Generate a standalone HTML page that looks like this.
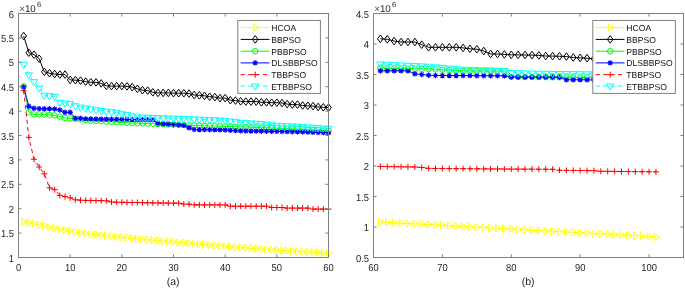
<!DOCTYPE html><html><head><meta charset="utf-8"><style>html,body{margin:0;padding:0;background:#fff;}svg{display:block;will-change:transform}</style></head><body><svg width="685" height="289" viewBox="0 0 685 289">
<style>text{text-rendering:geometricPrecision}.t{font-family:"Liberation Sans",sans-serif;font-size:9.8px;fill:#262626}.tk{font-size:10.1px}.l{font-family:"Liberation Sans",sans-serif;font-size:8.6px;fill:#141414}</style>
<rect width="685" height="289" fill="#fff"/>
<clipPath id="clipa"><rect x="18.5" y="13.5" width="310" height="244"/></clipPath>
<polyline points="23.67,221.50 28.83,222.58 34.00,223.67 39.17,224.75 44.33,225.83 49.50,226.92 54.67,228.00 59.83,229.02 65.00,230.04 70.17,231.06 75.33,232.08 80.50,233.05 85.67,233.58 90.83,234.10 96.00,234.63 101.17,235.16 106.33,235.68 111.50,236.21 116.67,236.73 121.83,237.26 127.00,237.78 132.17,238.28 137.33,238.74 142.50,239.19 147.67,239.64 152.83,240.10 158.00,240.55 163.17,241.00 168.33,241.46 173.50,241.91 178.67,242.36 183.83,242.81 189.00,243.24 194.17,243.68 199.33,244.12 204.50,244.55 209.67,244.99 214.83,245.43 220.00,245.86 225.17,246.30 230.33,246.69 235.50,247.08 240.67,247.47 245.83,247.86 251.00,248.24 256.17,248.63 261.33,249.02 266.50,249.41 271.67,249.80 276.83,250.11 282.00,250.42 287.17,250.73 292.33,251.04 297.50,251.35 302.67,251.65 307.83,251.96 313.00,252.27 318.17,252.58 323.33,252.89 328.50,253.20" fill="none" stroke="#ffff00" stroke-width="1.0" clip-path="url(#clipa)"/>
<path d="M21.80,217.90L27.40,221.50L21.80,225.10Z" fill="none" stroke="#ffff00" stroke-width="1.0"/>
<path d="M26.97,218.98L32.57,222.58L26.97,226.18Z" fill="none" stroke="#ffff00" stroke-width="1.0"/>
<path d="M32.13,220.07L37.73,223.67L32.13,227.27Z" fill="none" stroke="#ffff00" stroke-width="1.0"/>
<path d="M37.30,221.15L42.90,224.75L37.30,228.35Z" fill="none" stroke="#ffff00" stroke-width="1.0"/>
<path d="M42.47,222.23L48.07,225.83L42.47,229.43Z" fill="none" stroke="#ffff00" stroke-width="1.0"/>
<path d="M47.63,223.32L53.23,226.92L47.63,230.52Z" fill="none" stroke="#ffff00" stroke-width="1.0"/>
<path d="M52.80,224.40L58.40,228.00L52.80,231.60Z" fill="none" stroke="#ffff00" stroke-width="1.0"/>
<path d="M57.97,225.42L63.57,229.02L57.97,232.62Z" fill="none" stroke="#ffff00" stroke-width="1.0"/>
<path d="M63.13,226.44L68.73,230.04L63.13,233.64Z" fill="none" stroke="#ffff00" stroke-width="1.0"/>
<path d="M68.30,227.46L73.90,231.06L68.30,234.66Z" fill="none" stroke="#ffff00" stroke-width="1.0"/>
<path d="M73.47,228.48L79.07,232.08L73.47,235.68Z" fill="none" stroke="#ffff00" stroke-width="1.0"/>
<path d="M78.63,229.45L84.23,233.05L78.63,236.65Z" fill="none" stroke="#ffff00" stroke-width="1.0"/>
<path d="M83.80,229.98L89.40,233.58L83.80,237.18Z" fill="none" stroke="#ffff00" stroke-width="1.0"/>
<path d="M88.97,230.50L94.57,234.10L88.97,237.70Z" fill="none" stroke="#ffff00" stroke-width="1.0"/>
<path d="M94.13,231.03L99.73,234.63L94.13,238.23Z" fill="none" stroke="#ffff00" stroke-width="1.0"/>
<path d="M99.30,231.56L104.90,235.16L99.30,238.76Z" fill="none" stroke="#ffff00" stroke-width="1.0"/>
<path d="M104.47,232.08L110.07,235.68L104.47,239.28Z" fill="none" stroke="#ffff00" stroke-width="1.0"/>
<path d="M109.63,232.61L115.23,236.21L109.63,239.81Z" fill="none" stroke="#ffff00" stroke-width="1.0"/>
<path d="M114.80,233.13L120.40,236.73L114.80,240.33Z" fill="none" stroke="#ffff00" stroke-width="1.0"/>
<path d="M119.97,233.66L125.57,237.26L119.97,240.86Z" fill="none" stroke="#ffff00" stroke-width="1.0"/>
<path d="M125.13,234.18L130.73,237.78L125.13,241.38Z" fill="none" stroke="#ffff00" stroke-width="1.0"/>
<path d="M130.30,234.68L135.90,238.28L130.30,241.88Z" fill="none" stroke="#ffff00" stroke-width="1.0"/>
<path d="M135.47,235.14L141.07,238.74L135.47,242.34Z" fill="none" stroke="#ffff00" stroke-width="1.0"/>
<path d="M140.63,235.59L146.23,239.19L140.63,242.79Z" fill="none" stroke="#ffff00" stroke-width="1.0"/>
<path d="M145.80,236.04L151.40,239.64L145.80,243.24Z" fill="none" stroke="#ffff00" stroke-width="1.0"/>
<path d="M150.97,236.50L156.57,240.10L150.97,243.70Z" fill="none" stroke="#ffff00" stroke-width="1.0"/>
<path d="M156.13,236.95L161.73,240.55L156.13,244.15Z" fill="none" stroke="#ffff00" stroke-width="1.0"/>
<path d="M161.30,237.40L166.90,241.00L161.30,244.60Z" fill="none" stroke="#ffff00" stroke-width="1.0"/>
<path d="M166.47,237.86L172.07,241.46L166.47,245.06Z" fill="none" stroke="#ffff00" stroke-width="1.0"/>
<path d="M171.63,238.31L177.23,241.91L171.63,245.51Z" fill="none" stroke="#ffff00" stroke-width="1.0"/>
<path d="M176.80,238.76L182.40,242.36L176.80,245.96Z" fill="none" stroke="#ffff00" stroke-width="1.0"/>
<path d="M181.97,239.21L187.57,242.81L181.97,246.41Z" fill="none" stroke="#ffff00" stroke-width="1.0"/>
<path d="M187.13,239.64L192.73,243.24L187.13,246.84Z" fill="none" stroke="#ffff00" stroke-width="1.0"/>
<path d="M192.30,240.08L197.90,243.68L192.30,247.28Z" fill="none" stroke="#ffff00" stroke-width="1.0"/>
<path d="M197.47,240.52L203.07,244.12L197.47,247.72Z" fill="none" stroke="#ffff00" stroke-width="1.0"/>
<path d="M202.63,240.95L208.23,244.55L202.63,248.15Z" fill="none" stroke="#ffff00" stroke-width="1.0"/>
<path d="M207.80,241.39L213.40,244.99L207.80,248.59Z" fill="none" stroke="#ffff00" stroke-width="1.0"/>
<path d="M212.97,241.83L218.57,245.43L212.97,249.03Z" fill="none" stroke="#ffff00" stroke-width="1.0"/>
<path d="M218.13,242.26L223.73,245.86L218.13,249.46Z" fill="none" stroke="#ffff00" stroke-width="1.0"/>
<path d="M223.30,242.70L228.90,246.30L223.30,249.90Z" fill="none" stroke="#ffff00" stroke-width="1.0"/>
<path d="M228.47,243.09L234.07,246.69L228.47,250.29Z" fill="none" stroke="#ffff00" stroke-width="1.0"/>
<path d="M233.63,243.48L239.23,247.08L233.63,250.68Z" fill="none" stroke="#ffff00" stroke-width="1.0"/>
<path d="M238.80,243.87L244.40,247.47L238.80,251.07Z" fill="none" stroke="#ffff00" stroke-width="1.0"/>
<path d="M243.97,244.26L249.57,247.86L243.97,251.46Z" fill="none" stroke="#ffff00" stroke-width="1.0"/>
<path d="M249.13,244.64L254.73,248.24L249.13,251.84Z" fill="none" stroke="#ffff00" stroke-width="1.0"/>
<path d="M254.30,245.03L259.90,248.63L254.30,252.23Z" fill="none" stroke="#ffff00" stroke-width="1.0"/>
<path d="M259.47,245.42L265.07,249.02L259.47,252.62Z" fill="none" stroke="#ffff00" stroke-width="1.0"/>
<path d="M264.63,245.81L270.23,249.41L264.63,253.01Z" fill="none" stroke="#ffff00" stroke-width="1.0"/>
<path d="M269.80,246.20L275.40,249.80L269.80,253.40Z" fill="none" stroke="#ffff00" stroke-width="1.0"/>
<path d="M274.97,246.51L280.57,250.11L274.97,253.71Z" fill="none" stroke="#ffff00" stroke-width="1.0"/>
<path d="M280.13,246.82L285.73,250.42L280.13,254.02Z" fill="none" stroke="#ffff00" stroke-width="1.0"/>
<path d="M285.30,247.13L290.90,250.73L285.30,254.33Z" fill="none" stroke="#ffff00" stroke-width="1.0"/>
<path d="M290.47,247.44L296.07,251.04L290.47,254.64Z" fill="none" stroke="#ffff00" stroke-width="1.0"/>
<path d="M295.63,247.75L301.23,251.35L295.63,254.95Z" fill="none" stroke="#ffff00" stroke-width="1.0"/>
<path d="M300.80,248.05L306.40,251.65L300.80,255.25Z" fill="none" stroke="#ffff00" stroke-width="1.0"/>
<path d="M305.97,248.36L311.57,251.96L305.97,255.56Z" fill="none" stroke="#ffff00" stroke-width="1.0"/>
<path d="M311.13,248.67L316.73,252.27L311.13,255.87Z" fill="none" stroke="#ffff00" stroke-width="1.0"/>
<path d="M316.30,248.98L321.90,252.58L316.30,256.18Z" fill="none" stroke="#ffff00" stroke-width="1.0"/>
<path d="M321.47,249.29L327.07,252.89L321.47,256.49Z" fill="none" stroke="#ffff00" stroke-width="1.0"/>
<path d="M326.63,249.60L332.23,253.20L326.63,256.80Z" fill="none" stroke="#ffff00" stroke-width="1.0"/>
<polyline points="23.67,36.00 28.83,52.70 34.00,54.70 39.17,58.70 44.33,71.80 49.50,73.20 54.67,74.00 59.83,74.60 65.00,74.60 70.17,79.90 75.33,80.20 80.50,80.60 85.67,81.60 90.83,82.30 96.00,82.30 101.17,83.40 106.33,85.80 111.50,86.10 116.67,86.10 121.83,86.10 127.00,86.40 132.17,87.10 137.33,88.80 142.50,90.20 147.67,90.60 152.83,92.30 158.00,92.90 163.17,92.90 168.33,92.90 173.50,93.20 178.67,93.20 183.83,93.20 189.00,93.60 194.17,95.00 199.33,95.30 204.50,95.80 209.67,96.70 214.83,97.10 220.00,98.10 225.17,98.10 230.33,100.20 235.50,100.60 240.67,101.30 245.83,101.60 251.00,101.60 256.17,101.60 261.33,102.30 266.50,102.30 271.67,102.70 276.83,102.70 282.00,103.00 287.17,104.10 292.33,104.60 297.50,104.60 302.67,105.50 307.83,105.80 313.00,106.10 318.17,107.00 323.33,107.30 328.50,107.60" fill="none" stroke="#000000" stroke-width="1.0" clip-path="url(#clipa)"/>
<path d="M23.67,32.20L26.47,36.00L23.67,39.80L20.87,36.00Z" fill="none" stroke="#000000" stroke-width="1.0"/>
<path d="M28.83,48.90L31.63,52.70L28.83,56.50L26.03,52.70Z" fill="none" stroke="#000000" stroke-width="1.0"/>
<path d="M34.00,50.90L36.80,54.70L34.00,58.50L31.20,54.70Z" fill="none" stroke="#000000" stroke-width="1.0"/>
<path d="M39.17,54.90L41.97,58.70L39.17,62.50L36.37,58.70Z" fill="none" stroke="#000000" stroke-width="1.0"/>
<path d="M44.33,68.00L47.13,71.80L44.33,75.60L41.53,71.80Z" fill="none" stroke="#000000" stroke-width="1.0"/>
<path d="M49.50,69.40L52.30,73.20L49.50,77.00L46.70,73.20Z" fill="none" stroke="#000000" stroke-width="1.0"/>
<path d="M54.67,70.20L57.47,74.00L54.67,77.80L51.87,74.00Z" fill="none" stroke="#000000" stroke-width="1.0"/>
<path d="M59.83,70.80L62.63,74.60L59.83,78.40L57.03,74.60Z" fill="none" stroke="#000000" stroke-width="1.0"/>
<path d="M65.00,70.80L67.80,74.60L65.00,78.40L62.20,74.60Z" fill="none" stroke="#000000" stroke-width="1.0"/>
<path d="M70.17,76.10L72.97,79.90L70.17,83.70L67.37,79.90Z" fill="none" stroke="#000000" stroke-width="1.0"/>
<path d="M75.33,76.40L78.13,80.20L75.33,84.00L72.53,80.20Z" fill="none" stroke="#000000" stroke-width="1.0"/>
<path d="M80.50,76.80L83.30,80.60L80.50,84.40L77.70,80.60Z" fill="none" stroke="#000000" stroke-width="1.0"/>
<path d="M85.67,77.80L88.47,81.60L85.67,85.40L82.87,81.60Z" fill="none" stroke="#000000" stroke-width="1.0"/>
<path d="M90.83,78.50L93.63,82.30L90.83,86.10L88.03,82.30Z" fill="none" stroke="#000000" stroke-width="1.0"/>
<path d="M96.00,78.50L98.80,82.30L96.00,86.10L93.20,82.30Z" fill="none" stroke="#000000" stroke-width="1.0"/>
<path d="M101.17,79.60L103.97,83.40L101.17,87.20L98.37,83.40Z" fill="none" stroke="#000000" stroke-width="1.0"/>
<path d="M106.33,82.00L109.13,85.80L106.33,89.60L103.53,85.80Z" fill="none" stroke="#000000" stroke-width="1.0"/>
<path d="M111.50,82.30L114.30,86.10L111.50,89.90L108.70,86.10Z" fill="none" stroke="#000000" stroke-width="1.0"/>
<path d="M116.67,82.30L119.47,86.10L116.67,89.90L113.87,86.10Z" fill="none" stroke="#000000" stroke-width="1.0"/>
<path d="M121.83,82.30L124.63,86.10L121.83,89.90L119.03,86.10Z" fill="none" stroke="#000000" stroke-width="1.0"/>
<path d="M127.00,82.60L129.80,86.40L127.00,90.20L124.20,86.40Z" fill="none" stroke="#000000" stroke-width="1.0"/>
<path d="M132.17,83.30L134.97,87.10L132.17,90.90L129.37,87.10Z" fill="none" stroke="#000000" stroke-width="1.0"/>
<path d="M137.33,85.00L140.13,88.80L137.33,92.60L134.53,88.80Z" fill="none" stroke="#000000" stroke-width="1.0"/>
<path d="M142.50,86.40L145.30,90.20L142.50,94.00L139.70,90.20Z" fill="none" stroke="#000000" stroke-width="1.0"/>
<path d="M147.67,86.80L150.47,90.60L147.67,94.40L144.87,90.60Z" fill="none" stroke="#000000" stroke-width="1.0"/>
<path d="M152.83,88.50L155.63,92.30L152.83,96.10L150.03,92.30Z" fill="none" stroke="#000000" stroke-width="1.0"/>
<path d="M158.00,89.10L160.80,92.90L158.00,96.70L155.20,92.90Z" fill="none" stroke="#000000" stroke-width="1.0"/>
<path d="M163.17,89.10L165.97,92.90L163.17,96.70L160.37,92.90Z" fill="none" stroke="#000000" stroke-width="1.0"/>
<path d="M168.33,89.10L171.13,92.90L168.33,96.70L165.53,92.90Z" fill="none" stroke="#000000" stroke-width="1.0"/>
<path d="M173.50,89.40L176.30,93.20L173.50,97.00L170.70,93.20Z" fill="none" stroke="#000000" stroke-width="1.0"/>
<path d="M178.67,89.40L181.47,93.20L178.67,97.00L175.87,93.20Z" fill="none" stroke="#000000" stroke-width="1.0"/>
<path d="M183.83,89.40L186.63,93.20L183.83,97.00L181.03,93.20Z" fill="none" stroke="#000000" stroke-width="1.0"/>
<path d="M189.00,89.80L191.80,93.60L189.00,97.40L186.20,93.60Z" fill="none" stroke="#000000" stroke-width="1.0"/>
<path d="M194.17,91.20L196.97,95.00L194.17,98.80L191.37,95.00Z" fill="none" stroke="#000000" stroke-width="1.0"/>
<path d="M199.33,91.50L202.13,95.30L199.33,99.10L196.53,95.30Z" fill="none" stroke="#000000" stroke-width="1.0"/>
<path d="M204.50,92.00L207.30,95.80L204.50,99.60L201.70,95.80Z" fill="none" stroke="#000000" stroke-width="1.0"/>
<path d="M209.67,92.90L212.47,96.70L209.67,100.50L206.87,96.70Z" fill="none" stroke="#000000" stroke-width="1.0"/>
<path d="M214.83,93.30L217.63,97.10L214.83,100.90L212.03,97.10Z" fill="none" stroke="#000000" stroke-width="1.0"/>
<path d="M220.00,94.30L222.80,98.10L220.00,101.90L217.20,98.10Z" fill="none" stroke="#000000" stroke-width="1.0"/>
<path d="M225.17,94.30L227.97,98.10L225.17,101.90L222.37,98.10Z" fill="none" stroke="#000000" stroke-width="1.0"/>
<path d="M230.33,96.40L233.13,100.20L230.33,104.00L227.53,100.20Z" fill="none" stroke="#000000" stroke-width="1.0"/>
<path d="M235.50,96.80L238.30,100.60L235.50,104.40L232.70,100.60Z" fill="none" stroke="#000000" stroke-width="1.0"/>
<path d="M240.67,97.50L243.47,101.30L240.67,105.10L237.87,101.30Z" fill="none" stroke="#000000" stroke-width="1.0"/>
<path d="M245.83,97.80L248.63,101.60L245.83,105.40L243.03,101.60Z" fill="none" stroke="#000000" stroke-width="1.0"/>
<path d="M251.00,97.80L253.80,101.60L251.00,105.40L248.20,101.60Z" fill="none" stroke="#000000" stroke-width="1.0"/>
<path d="M256.17,97.80L258.97,101.60L256.17,105.40L253.37,101.60Z" fill="none" stroke="#000000" stroke-width="1.0"/>
<path d="M261.33,98.50L264.13,102.30L261.33,106.10L258.53,102.30Z" fill="none" stroke="#000000" stroke-width="1.0"/>
<path d="M266.50,98.50L269.30,102.30L266.50,106.10L263.70,102.30Z" fill="none" stroke="#000000" stroke-width="1.0"/>
<path d="M271.67,98.90L274.47,102.70L271.67,106.50L268.87,102.70Z" fill="none" stroke="#000000" stroke-width="1.0"/>
<path d="M276.83,98.90L279.63,102.70L276.83,106.50L274.03,102.70Z" fill="none" stroke="#000000" stroke-width="1.0"/>
<path d="M282.00,99.20L284.80,103.00L282.00,106.80L279.20,103.00Z" fill="none" stroke="#000000" stroke-width="1.0"/>
<path d="M287.17,100.30L289.97,104.10L287.17,107.90L284.37,104.10Z" fill="none" stroke="#000000" stroke-width="1.0"/>
<path d="M292.33,100.80L295.13,104.60L292.33,108.40L289.53,104.60Z" fill="none" stroke="#000000" stroke-width="1.0"/>
<path d="M297.50,100.80L300.30,104.60L297.50,108.40L294.70,104.60Z" fill="none" stroke="#000000" stroke-width="1.0"/>
<path d="M302.67,101.70L305.47,105.50L302.67,109.30L299.87,105.50Z" fill="none" stroke="#000000" stroke-width="1.0"/>
<path d="M307.83,102.00L310.63,105.80L307.83,109.60L305.03,105.80Z" fill="none" stroke="#000000" stroke-width="1.0"/>
<path d="M313.00,102.30L315.80,106.10L313.00,109.90L310.20,106.10Z" fill="none" stroke="#000000" stroke-width="1.0"/>
<path d="M318.17,103.20L320.97,107.00L318.17,110.80L315.37,107.00Z" fill="none" stroke="#000000" stroke-width="1.0"/>
<path d="M323.33,103.50L326.13,107.30L323.33,111.10L320.53,107.30Z" fill="none" stroke="#000000" stroke-width="1.0"/>
<path d="M328.50,103.80L331.30,107.60L328.50,111.40L325.70,107.60Z" fill="none" stroke="#000000" stroke-width="1.0"/>
<polyline points="23.67,86.20 28.83,112.30 34.00,114.40 39.17,114.40 44.33,114.40 49.50,114.90 54.67,115.30 59.83,116.60 65.00,118.00 70.17,118.40 75.33,118.80 80.50,119.30 85.67,120.05 90.83,120.60 96.00,120.91 101.17,121.22 106.33,121.53 111.50,121.83 116.67,122.14 121.83,122.45 127.00,122.76 132.17,123.07 137.33,123.23 142.50,123.38 147.67,123.54 152.83,123.70 158.00,123.93 163.17,124.16 168.33,124.39 173.50,124.61 178.67,124.84 183.83,125.07 189.00,125.30 194.17,125.45 199.33,125.59 204.50,125.74 209.67,125.89 214.83,126.03 220.00,126.18 225.17,126.33 230.33,126.51 235.50,126.69 240.67,126.88 245.83,127.06 251.00,127.24 256.17,127.43 261.33,127.61 266.50,127.80 271.67,127.98 276.83,128.16 282.00,128.42 287.17,128.67 292.33,128.92 297.50,129.18 302.67,129.43 307.83,129.69 313.00,129.94 318.17,130.19 323.33,130.45 328.50,130.70" fill="none" stroke="#00ff00" stroke-width="1.0" clip-path="url(#clipa)"/>
<circle cx="23.67" cy="86.20" r="2.75" fill="none" stroke="#00ff00" stroke-width="1.0"/>
<circle cx="28.83" cy="112.30" r="2.75" fill="none" stroke="#00ff00" stroke-width="1.0"/>
<circle cx="34.00" cy="114.40" r="2.75" fill="none" stroke="#00ff00" stroke-width="1.0"/>
<circle cx="39.17" cy="114.40" r="2.75" fill="none" stroke="#00ff00" stroke-width="1.0"/>
<circle cx="44.33" cy="114.40" r="2.75" fill="none" stroke="#00ff00" stroke-width="1.0"/>
<circle cx="49.50" cy="114.90" r="2.75" fill="none" stroke="#00ff00" stroke-width="1.0"/>
<circle cx="54.67" cy="115.30" r="2.75" fill="none" stroke="#00ff00" stroke-width="1.0"/>
<circle cx="59.83" cy="116.60" r="2.75" fill="none" stroke="#00ff00" stroke-width="1.0"/>
<circle cx="65.00" cy="118.00" r="2.75" fill="none" stroke="#00ff00" stroke-width="1.0"/>
<circle cx="70.17" cy="118.40" r="2.75" fill="none" stroke="#00ff00" stroke-width="1.0"/>
<circle cx="75.33" cy="118.80" r="2.75" fill="none" stroke="#00ff00" stroke-width="1.0"/>
<circle cx="80.50" cy="119.30" r="2.75" fill="none" stroke="#00ff00" stroke-width="1.0"/>
<circle cx="85.67" cy="120.05" r="2.75" fill="none" stroke="#00ff00" stroke-width="1.0"/>
<circle cx="90.83" cy="120.60" r="2.75" fill="none" stroke="#00ff00" stroke-width="1.0"/>
<circle cx="96.00" cy="120.91" r="2.75" fill="none" stroke="#00ff00" stroke-width="1.0"/>
<circle cx="101.17" cy="121.22" r="2.75" fill="none" stroke="#00ff00" stroke-width="1.0"/>
<circle cx="106.33" cy="121.53" r="2.75" fill="none" stroke="#00ff00" stroke-width="1.0"/>
<circle cx="111.50" cy="121.83" r="2.75" fill="none" stroke="#00ff00" stroke-width="1.0"/>
<circle cx="116.67" cy="122.14" r="2.75" fill="none" stroke="#00ff00" stroke-width="1.0"/>
<circle cx="121.83" cy="122.45" r="2.75" fill="none" stroke="#00ff00" stroke-width="1.0"/>
<circle cx="127.00" cy="122.76" r="2.75" fill="none" stroke="#00ff00" stroke-width="1.0"/>
<circle cx="132.17" cy="123.07" r="2.75" fill="none" stroke="#00ff00" stroke-width="1.0"/>
<circle cx="137.33" cy="123.23" r="2.75" fill="none" stroke="#00ff00" stroke-width="1.0"/>
<circle cx="142.50" cy="123.38" r="2.75" fill="none" stroke="#00ff00" stroke-width="1.0"/>
<circle cx="147.67" cy="123.54" r="2.75" fill="none" stroke="#00ff00" stroke-width="1.0"/>
<circle cx="152.83" cy="123.70" r="2.75" fill="none" stroke="#00ff00" stroke-width="1.0"/>
<circle cx="158.00" cy="123.93" r="2.75" fill="none" stroke="#00ff00" stroke-width="1.0"/>
<circle cx="163.17" cy="124.16" r="2.75" fill="none" stroke="#00ff00" stroke-width="1.0"/>
<circle cx="168.33" cy="124.39" r="2.75" fill="none" stroke="#00ff00" stroke-width="1.0"/>
<circle cx="173.50" cy="124.61" r="2.75" fill="none" stroke="#00ff00" stroke-width="1.0"/>
<circle cx="178.67" cy="124.84" r="2.75" fill="none" stroke="#00ff00" stroke-width="1.0"/>
<circle cx="183.83" cy="125.07" r="2.75" fill="none" stroke="#00ff00" stroke-width="1.0"/>
<circle cx="189.00" cy="125.30" r="2.75" fill="none" stroke="#00ff00" stroke-width="1.0"/>
<circle cx="194.17" cy="125.45" r="2.75" fill="none" stroke="#00ff00" stroke-width="1.0"/>
<circle cx="199.33" cy="125.59" r="2.75" fill="none" stroke="#00ff00" stroke-width="1.0"/>
<circle cx="204.50" cy="125.74" r="2.75" fill="none" stroke="#00ff00" stroke-width="1.0"/>
<circle cx="209.67" cy="125.89" r="2.75" fill="none" stroke="#00ff00" stroke-width="1.0"/>
<circle cx="214.83" cy="126.03" r="2.75" fill="none" stroke="#00ff00" stroke-width="1.0"/>
<circle cx="220.00" cy="126.18" r="2.75" fill="none" stroke="#00ff00" stroke-width="1.0"/>
<circle cx="225.17" cy="126.33" r="2.75" fill="none" stroke="#00ff00" stroke-width="1.0"/>
<circle cx="230.33" cy="126.51" r="2.75" fill="none" stroke="#00ff00" stroke-width="1.0"/>
<circle cx="235.50" cy="126.69" r="2.75" fill="none" stroke="#00ff00" stroke-width="1.0"/>
<circle cx="240.67" cy="126.88" r="2.75" fill="none" stroke="#00ff00" stroke-width="1.0"/>
<circle cx="245.83" cy="127.06" r="2.75" fill="none" stroke="#00ff00" stroke-width="1.0"/>
<circle cx="251.00" cy="127.24" r="2.75" fill="none" stroke="#00ff00" stroke-width="1.0"/>
<circle cx="256.17" cy="127.43" r="2.75" fill="none" stroke="#00ff00" stroke-width="1.0"/>
<circle cx="261.33" cy="127.61" r="2.75" fill="none" stroke="#00ff00" stroke-width="1.0"/>
<circle cx="266.50" cy="127.80" r="2.75" fill="none" stroke="#00ff00" stroke-width="1.0"/>
<circle cx="271.67" cy="127.98" r="2.75" fill="none" stroke="#00ff00" stroke-width="1.0"/>
<circle cx="276.83" cy="128.16" r="2.75" fill="none" stroke="#00ff00" stroke-width="1.0"/>
<circle cx="282.00" cy="128.42" r="2.75" fill="none" stroke="#00ff00" stroke-width="1.0"/>
<circle cx="287.17" cy="128.67" r="2.75" fill="none" stroke="#00ff00" stroke-width="1.0"/>
<circle cx="292.33" cy="128.92" r="2.75" fill="none" stroke="#00ff00" stroke-width="1.0"/>
<circle cx="297.50" cy="129.18" r="2.75" fill="none" stroke="#00ff00" stroke-width="1.0"/>
<circle cx="302.67" cy="129.43" r="2.75" fill="none" stroke="#00ff00" stroke-width="1.0"/>
<circle cx="307.83" cy="129.69" r="2.75" fill="none" stroke="#00ff00" stroke-width="1.0"/>
<circle cx="313.00" cy="129.94" r="2.75" fill="none" stroke="#00ff00" stroke-width="1.0"/>
<circle cx="318.17" cy="130.19" r="2.75" fill="none" stroke="#00ff00" stroke-width="1.0"/>
<circle cx="323.33" cy="130.45" r="2.75" fill="none" stroke="#00ff00" stroke-width="1.0"/>
<circle cx="328.50" cy="130.70" r="2.75" fill="none" stroke="#00ff00" stroke-width="1.0"/>
<polyline points="23.67,87.00 28.83,106.30 34.00,108.30 39.17,108.60 44.33,108.80 49.50,108.80 54.67,109.00 59.83,110.00 65.00,112.30 70.17,112.30 75.33,118.40 80.50,118.40 85.67,118.90 90.83,118.97 96.00,119.04 101.17,119.11 106.33,119.18 111.50,119.25 116.67,119.32 121.83,119.38 127.00,119.45 132.17,119.52 137.33,119.59 142.50,119.66 147.67,119.73 152.83,119.80 158.00,123.50 163.17,123.80 168.33,124.10 173.50,124.50 178.67,124.90 183.83,125.40 189.00,127.80 194.17,129.50 199.33,129.58 204.50,129.67 209.67,129.75 214.83,129.83 220.00,129.92 225.17,130.00 230.33,130.30 235.50,130.60 240.67,130.90 245.83,130.97 251.00,131.04 256.17,131.11 261.33,131.19 266.50,131.26 271.67,131.33 276.83,131.40 282.00,131.50 287.17,131.60 292.33,131.70 297.50,131.80 302.67,131.97 307.83,132.13 313.00,132.30 318.17,132.47 323.33,132.63 328.50,132.80" fill="none" stroke="#0000ff" stroke-width="1.0" clip-path="url(#clipa)"/>
<path d="M20.97,87.00H26.37M23.67,84.30V89.70M21.72,85.06L25.61,88.94M21.72,88.94L25.61,85.06" stroke="#0000ff" stroke-width="1.15"/>
<path d="M26.13,106.30H31.53M28.83,103.60V109.00M26.89,104.36L30.78,108.24M26.89,108.24L30.78,104.36" stroke="#0000ff" stroke-width="1.15"/>
<path d="M31.30,108.30H36.70M34.00,105.60V111.00M32.06,106.36L35.94,110.24M32.06,110.24L35.94,106.36" stroke="#0000ff" stroke-width="1.15"/>
<path d="M36.47,108.60H41.87M39.17,105.90V111.30M37.22,106.66L41.11,110.54M37.22,110.54L41.11,106.66" stroke="#0000ff" stroke-width="1.15"/>
<path d="M41.63,108.80H47.03M44.33,106.10V111.50M42.39,106.86L46.28,110.74M42.39,110.74L46.28,106.86" stroke="#0000ff" stroke-width="1.15"/>
<path d="M46.80,108.80H52.20M49.50,106.10V111.50M47.56,106.86L51.44,110.74M47.56,110.74L51.44,106.86" stroke="#0000ff" stroke-width="1.15"/>
<path d="M51.97,109.00H57.37M54.67,106.30V111.70M52.72,107.06L56.61,110.94M52.72,110.94L56.61,107.06" stroke="#0000ff" stroke-width="1.15"/>
<path d="M57.13,110.00H62.53M59.83,107.30V112.70M57.89,108.06L61.78,111.94M57.89,111.94L61.78,108.06" stroke="#0000ff" stroke-width="1.15"/>
<path d="M62.30,112.30H67.70M65.00,109.60V115.00M63.06,110.36L66.94,114.24M63.06,114.24L66.94,110.36" stroke="#0000ff" stroke-width="1.15"/>
<path d="M67.47,112.30H72.87M70.17,109.60V115.00M68.22,110.36L72.11,114.24M68.22,114.24L72.11,110.36" stroke="#0000ff" stroke-width="1.15"/>
<path d="M72.63,118.40H78.03M75.33,115.70V121.10M73.39,116.46L77.28,120.34M73.39,120.34L77.28,116.46" stroke="#0000ff" stroke-width="1.15"/>
<path d="M77.80,118.40H83.20M80.50,115.70V121.10M78.56,116.46L82.44,120.34M78.56,120.34L82.44,116.46" stroke="#0000ff" stroke-width="1.15"/>
<path d="M82.97,118.90H88.37M85.67,116.20V121.60M83.72,116.96L87.61,120.84M83.72,120.84L87.61,116.96" stroke="#0000ff" stroke-width="1.15"/>
<path d="M88.13,118.97H93.53M90.83,116.27V121.67M88.89,117.03L92.78,120.91M88.89,120.91L92.78,117.03" stroke="#0000ff" stroke-width="1.15"/>
<path d="M93.30,119.04H98.70M96.00,116.34V121.74M94.06,117.09L97.94,120.98M94.06,120.98L97.94,117.09" stroke="#0000ff" stroke-width="1.15"/>
<path d="M98.47,119.11H103.87M101.17,116.41V121.81M99.22,117.16L103.11,121.05M99.22,121.05L103.11,117.16" stroke="#0000ff" stroke-width="1.15"/>
<path d="M103.63,119.18H109.03M106.33,116.48V121.88M104.39,117.23L108.28,121.12M104.39,121.12L108.28,117.23" stroke="#0000ff" stroke-width="1.15"/>
<path d="M108.80,119.25H114.20M111.50,116.55V121.95M109.56,117.30L113.44,121.19M109.56,121.19L113.44,117.30" stroke="#0000ff" stroke-width="1.15"/>
<path d="M113.97,119.32H119.37M116.67,116.62V122.02M114.72,117.37L118.61,121.26M114.72,121.26L118.61,117.37" stroke="#0000ff" stroke-width="1.15"/>
<path d="M119.13,119.38H124.53M121.83,116.68V122.08M119.89,117.44L123.78,121.33M119.89,121.33L123.78,117.44" stroke="#0000ff" stroke-width="1.15"/>
<path d="M124.30,119.45H129.70M127.00,116.75V122.15M125.06,117.51L128.94,121.40M125.06,121.40L128.94,117.51" stroke="#0000ff" stroke-width="1.15"/>
<path d="M129.47,119.52H134.87M132.17,116.82V122.22M130.22,117.58L134.11,121.47M130.22,121.47L134.11,117.58" stroke="#0000ff" stroke-width="1.15"/>
<path d="M134.63,119.59H140.03M137.33,116.89V122.29M135.39,117.65L139.28,121.54M135.39,121.54L139.28,117.65" stroke="#0000ff" stroke-width="1.15"/>
<path d="M139.80,119.66H145.20M142.50,116.96V122.36M140.56,117.72L144.44,121.61M140.56,121.61L144.44,117.72" stroke="#0000ff" stroke-width="1.15"/>
<path d="M144.97,119.73H150.37M147.67,117.03V122.43M145.72,117.79L149.61,121.67M145.72,121.67L149.61,117.79" stroke="#0000ff" stroke-width="1.15"/>
<path d="M150.13,119.80H155.53M152.83,117.10V122.50M150.89,117.86L154.78,121.74M150.89,121.74L154.78,117.86" stroke="#0000ff" stroke-width="1.15"/>
<path d="M155.30,123.50H160.70M158.00,120.80V126.20M156.06,121.56L159.94,125.44M156.06,125.44L159.94,121.56" stroke="#0000ff" stroke-width="1.15"/>
<path d="M160.47,123.80H165.87M163.17,121.10V126.50M161.22,121.86L165.11,125.74M161.22,125.74L165.11,121.86" stroke="#0000ff" stroke-width="1.15"/>
<path d="M165.63,124.10H171.03M168.33,121.40V126.80M166.39,122.16L170.28,126.04M166.39,126.04L170.28,122.16" stroke="#0000ff" stroke-width="1.15"/>
<path d="M170.80,124.50H176.20M173.50,121.80V127.20M171.56,122.56L175.44,126.44M171.56,126.44L175.44,122.56" stroke="#0000ff" stroke-width="1.15"/>
<path d="M175.97,124.90H181.37M178.67,122.20V127.60M176.72,122.96L180.61,126.84M176.72,126.84L180.61,122.96" stroke="#0000ff" stroke-width="1.15"/>
<path d="M181.13,125.40H186.53M183.83,122.70V128.10M181.89,123.46L185.78,127.34M181.89,127.34L185.78,123.46" stroke="#0000ff" stroke-width="1.15"/>
<path d="M186.30,127.80H191.70M189.00,125.10V130.50M187.06,125.86L190.94,129.74M187.06,129.74L190.94,125.86" stroke="#0000ff" stroke-width="1.15"/>
<path d="M191.47,129.50H196.87M194.17,126.80V132.20M192.22,127.56L196.11,131.44M192.22,131.44L196.11,127.56" stroke="#0000ff" stroke-width="1.15"/>
<path d="M196.63,129.58H202.03M199.33,126.88V132.28M197.39,127.64L201.28,131.53M197.39,131.53L201.28,127.64" stroke="#0000ff" stroke-width="1.15"/>
<path d="M201.80,129.67H207.20M204.50,126.97V132.37M202.56,127.72L206.44,131.61M202.56,131.61L206.44,127.72" stroke="#0000ff" stroke-width="1.15"/>
<path d="M206.97,129.75H212.37M209.67,127.05V132.45M207.72,127.81L211.61,131.69M207.72,131.69L211.61,127.81" stroke="#0000ff" stroke-width="1.15"/>
<path d="M212.13,129.83H217.53M214.83,127.13V132.53M212.89,127.89L216.78,131.78M212.89,131.78L216.78,127.89" stroke="#0000ff" stroke-width="1.15"/>
<path d="M217.30,129.92H222.70M220.00,127.22V132.62M218.06,127.97L221.94,131.86M218.06,131.86L221.94,127.97" stroke="#0000ff" stroke-width="1.15"/>
<path d="M222.47,130.00H227.87M225.17,127.30V132.70M223.22,128.06L227.11,131.94M223.22,131.94L227.11,128.06" stroke="#0000ff" stroke-width="1.15"/>
<path d="M227.63,130.30H233.03M230.33,127.60V133.00M228.39,128.36L232.28,132.24M228.39,132.24L232.28,128.36" stroke="#0000ff" stroke-width="1.15"/>
<path d="M232.80,130.60H238.20M235.50,127.90V133.30M233.56,128.66L237.44,132.54M233.56,132.54L237.44,128.66" stroke="#0000ff" stroke-width="1.15"/>
<path d="M237.97,130.90H243.37M240.67,128.20V133.60M238.72,128.96L242.61,132.84M238.72,132.84L242.61,128.96" stroke="#0000ff" stroke-width="1.15"/>
<path d="M243.13,130.97H248.53M245.83,128.27V133.67M243.89,129.03L247.78,132.92M243.89,132.92L247.78,129.03" stroke="#0000ff" stroke-width="1.15"/>
<path d="M248.30,131.04H253.70M251.00,128.34V133.74M249.06,129.10L252.94,132.99M249.06,132.99L252.94,129.10" stroke="#0000ff" stroke-width="1.15"/>
<path d="M253.47,131.11H258.87M256.17,128.41V133.81M254.22,129.17L258.11,133.06M254.22,133.06L258.11,129.17" stroke="#0000ff" stroke-width="1.15"/>
<path d="M258.63,131.19H264.03M261.33,128.49V133.89M259.39,129.24L263.28,133.13M259.39,133.13L263.28,129.24" stroke="#0000ff" stroke-width="1.15"/>
<path d="M263.80,131.26H269.20M266.50,128.56V133.96M264.56,129.31L268.44,133.20M264.56,133.20L268.44,129.31" stroke="#0000ff" stroke-width="1.15"/>
<path d="M268.97,131.33H274.37M271.67,128.63V134.03M269.72,129.38L273.61,133.27M269.72,133.27L273.61,129.38" stroke="#0000ff" stroke-width="1.15"/>
<path d="M274.13,131.40H279.53M276.83,128.70V134.10M274.89,129.46L278.78,133.34M274.89,133.34L278.78,129.46" stroke="#0000ff" stroke-width="1.15"/>
<path d="M279.30,131.50H284.70M282.00,128.80V134.20M280.06,129.56L283.94,133.44M280.06,133.44L283.94,129.56" stroke="#0000ff" stroke-width="1.15"/>
<path d="M284.47,131.60H289.87M287.17,128.90V134.30M285.22,129.66L289.11,133.54M285.22,133.54L289.11,129.66" stroke="#0000ff" stroke-width="1.15"/>
<path d="M289.63,131.70H295.03M292.33,129.00V134.40M290.39,129.76L294.28,133.64M290.39,133.64L294.28,129.76" stroke="#0000ff" stroke-width="1.15"/>
<path d="M294.80,131.80H300.20M297.50,129.10V134.50M295.56,129.86L299.44,133.74M295.56,133.74L299.44,129.86" stroke="#0000ff" stroke-width="1.15"/>
<path d="M299.97,131.97H305.37M302.67,129.27V134.67M300.72,130.02L304.61,133.91M300.72,133.91L304.61,130.02" stroke="#0000ff" stroke-width="1.15"/>
<path d="M305.13,132.13H310.53M307.83,129.43V134.83M305.89,130.19L309.78,134.08M305.89,134.08L309.78,130.19" stroke="#0000ff" stroke-width="1.15"/>
<path d="M310.30,132.30H315.70M313.00,129.60V135.00M311.06,130.36L314.94,134.24M311.06,134.24L314.94,130.36" stroke="#0000ff" stroke-width="1.15"/>
<path d="M315.47,132.47H320.87M318.17,129.77V135.17M316.22,130.52L320.11,134.41M316.22,134.41L320.11,130.52" stroke="#0000ff" stroke-width="1.15"/>
<path d="M320.63,132.63H326.03M323.33,129.93V135.33M321.39,130.69L325.28,134.58M321.39,134.58L325.28,130.69" stroke="#0000ff" stroke-width="1.15"/>
<path d="M325.80,132.80H331.20M328.50,130.10V135.50M326.56,130.86L330.44,134.74M326.56,134.74L330.44,130.86" stroke="#0000ff" stroke-width="1.15"/>
<polyline points="23.67,90.40 28.83,137.40 34.00,159.20 39.17,167.00 44.33,173.80 49.50,187.80 54.67,189.70 59.83,195.40 65.00,196.60 70.17,197.80 75.33,199.80 80.50,200.20 85.67,200.40 90.83,200.50 96.00,200.60 101.17,200.70 106.33,200.80 111.50,202.00 116.67,202.20 121.83,202.30 127.00,202.40 132.17,202.50 137.33,202.50 142.50,202.70 147.67,202.78 152.83,202.86 158.00,202.94 163.17,203.02 168.33,203.10 173.50,203.20 178.67,203.20 183.83,204.10 189.00,204.10 194.17,204.90 199.33,204.90 204.50,204.90 209.67,204.90 214.83,204.90 220.00,204.90 225.17,204.90 230.33,206.20 235.50,206.20 240.67,206.20 245.83,206.20 251.00,206.20 256.17,206.20 261.33,206.20 266.50,206.20 271.67,207.50 276.83,207.50 282.00,207.50 287.17,208.10 292.33,208.10 297.50,208.10 302.67,208.10 307.83,208.10 313.00,209.10 318.17,209.10 323.33,209.10 328.50,209.10" fill="none" stroke="#ff0000" stroke-width="1.0" stroke-dasharray="4.1,3.3" clip-path="url(#clipa)"/>
<path d="M20.67,90.40L26.67,90.40M23.67,87.40L23.67,93.40" stroke="#ff0000" stroke-width="1.0"/>
<path d="M25.83,137.40L31.83,137.40M28.83,134.40L28.83,140.40" stroke="#ff0000" stroke-width="1.0"/>
<path d="M31.00,159.20L37.00,159.20M34.00,156.20L34.00,162.20" stroke="#ff0000" stroke-width="1.0"/>
<path d="M36.17,167.00L42.17,167.00M39.17,164.00L39.17,170.00" stroke="#ff0000" stroke-width="1.0"/>
<path d="M41.33,173.80L47.33,173.80M44.33,170.80L44.33,176.80" stroke="#ff0000" stroke-width="1.0"/>
<path d="M46.50,187.80L52.50,187.80M49.50,184.80L49.50,190.80" stroke="#ff0000" stroke-width="1.0"/>
<path d="M51.67,189.70L57.67,189.70M54.67,186.70L54.67,192.70" stroke="#ff0000" stroke-width="1.0"/>
<path d="M56.83,195.40L62.83,195.40M59.83,192.40L59.83,198.40" stroke="#ff0000" stroke-width="1.0"/>
<path d="M62.00,196.60L68.00,196.60M65.00,193.60L65.00,199.60" stroke="#ff0000" stroke-width="1.0"/>
<path d="M67.17,197.80L73.17,197.80M70.17,194.80L70.17,200.80" stroke="#ff0000" stroke-width="1.0"/>
<path d="M72.33,199.80L78.33,199.80M75.33,196.80L75.33,202.80" stroke="#ff0000" stroke-width="1.0"/>
<path d="M77.50,200.20L83.50,200.20M80.50,197.20L80.50,203.20" stroke="#ff0000" stroke-width="1.0"/>
<path d="M82.67,200.40L88.67,200.40M85.67,197.40L85.67,203.40" stroke="#ff0000" stroke-width="1.0"/>
<path d="M87.83,200.50L93.83,200.50M90.83,197.50L90.83,203.50" stroke="#ff0000" stroke-width="1.0"/>
<path d="M93.00,200.60L99.00,200.60M96.00,197.60L96.00,203.60" stroke="#ff0000" stroke-width="1.0"/>
<path d="M98.17,200.70L104.17,200.70M101.17,197.70L101.17,203.70" stroke="#ff0000" stroke-width="1.0"/>
<path d="M103.33,200.80L109.33,200.80M106.33,197.80L106.33,203.80" stroke="#ff0000" stroke-width="1.0"/>
<path d="M108.50,202.00L114.50,202.00M111.50,199.00L111.50,205.00" stroke="#ff0000" stroke-width="1.0"/>
<path d="M113.67,202.20L119.67,202.20M116.67,199.20L116.67,205.20" stroke="#ff0000" stroke-width="1.0"/>
<path d="M118.83,202.30L124.83,202.30M121.83,199.30L121.83,205.30" stroke="#ff0000" stroke-width="1.0"/>
<path d="M124.00,202.40L130.00,202.40M127.00,199.40L127.00,205.40" stroke="#ff0000" stroke-width="1.0"/>
<path d="M129.17,202.50L135.17,202.50M132.17,199.50L132.17,205.50" stroke="#ff0000" stroke-width="1.0"/>
<path d="M134.33,202.50L140.33,202.50M137.33,199.50L137.33,205.50" stroke="#ff0000" stroke-width="1.0"/>
<path d="M139.50,202.70L145.50,202.70M142.50,199.70L142.50,205.70" stroke="#ff0000" stroke-width="1.0"/>
<path d="M144.67,202.78L150.67,202.78M147.67,199.78L147.67,205.78" stroke="#ff0000" stroke-width="1.0"/>
<path d="M149.83,202.86L155.83,202.86M152.83,199.86L152.83,205.86" stroke="#ff0000" stroke-width="1.0"/>
<path d="M155.00,202.94L161.00,202.94M158.00,199.94L158.00,205.94" stroke="#ff0000" stroke-width="1.0"/>
<path d="M160.17,203.02L166.17,203.02M163.17,200.02L163.17,206.02" stroke="#ff0000" stroke-width="1.0"/>
<path d="M165.33,203.10L171.33,203.10M168.33,200.10L168.33,206.10" stroke="#ff0000" stroke-width="1.0"/>
<path d="M170.50,203.20L176.50,203.20M173.50,200.20L173.50,206.20" stroke="#ff0000" stroke-width="1.0"/>
<path d="M175.67,203.20L181.67,203.20M178.67,200.20L178.67,206.20" stroke="#ff0000" stroke-width="1.0"/>
<path d="M180.83,204.10L186.83,204.10M183.83,201.10L183.83,207.10" stroke="#ff0000" stroke-width="1.0"/>
<path d="M186.00,204.10L192.00,204.10M189.00,201.10L189.00,207.10" stroke="#ff0000" stroke-width="1.0"/>
<path d="M191.17,204.90L197.17,204.90M194.17,201.90L194.17,207.90" stroke="#ff0000" stroke-width="1.0"/>
<path d="M196.33,204.90L202.33,204.90M199.33,201.90L199.33,207.90" stroke="#ff0000" stroke-width="1.0"/>
<path d="M201.50,204.90L207.50,204.90M204.50,201.90L204.50,207.90" stroke="#ff0000" stroke-width="1.0"/>
<path d="M206.67,204.90L212.67,204.90M209.67,201.90L209.67,207.90" stroke="#ff0000" stroke-width="1.0"/>
<path d="M211.83,204.90L217.83,204.90M214.83,201.90L214.83,207.90" stroke="#ff0000" stroke-width="1.0"/>
<path d="M217.00,204.90L223.00,204.90M220.00,201.90L220.00,207.90" stroke="#ff0000" stroke-width="1.0"/>
<path d="M222.17,204.90L228.17,204.90M225.17,201.90L225.17,207.90" stroke="#ff0000" stroke-width="1.0"/>
<path d="M227.33,206.20L233.33,206.20M230.33,203.20L230.33,209.20" stroke="#ff0000" stroke-width="1.0"/>
<path d="M232.50,206.20L238.50,206.20M235.50,203.20L235.50,209.20" stroke="#ff0000" stroke-width="1.0"/>
<path d="M237.67,206.20L243.67,206.20M240.67,203.20L240.67,209.20" stroke="#ff0000" stroke-width="1.0"/>
<path d="M242.83,206.20L248.83,206.20M245.83,203.20L245.83,209.20" stroke="#ff0000" stroke-width="1.0"/>
<path d="M248.00,206.20L254.00,206.20M251.00,203.20L251.00,209.20" stroke="#ff0000" stroke-width="1.0"/>
<path d="M253.17,206.20L259.17,206.20M256.17,203.20L256.17,209.20" stroke="#ff0000" stroke-width="1.0"/>
<path d="M258.33,206.20L264.33,206.20M261.33,203.20L261.33,209.20" stroke="#ff0000" stroke-width="1.0"/>
<path d="M263.50,206.20L269.50,206.20M266.50,203.20L266.50,209.20" stroke="#ff0000" stroke-width="1.0"/>
<path d="M268.67,207.50L274.67,207.50M271.67,204.50L271.67,210.50" stroke="#ff0000" stroke-width="1.0"/>
<path d="M273.83,207.50L279.83,207.50M276.83,204.50L276.83,210.50" stroke="#ff0000" stroke-width="1.0"/>
<path d="M279.00,207.50L285.00,207.50M282.00,204.50L282.00,210.50" stroke="#ff0000" stroke-width="1.0"/>
<path d="M284.17,208.10L290.17,208.10M287.17,205.10L287.17,211.10" stroke="#ff0000" stroke-width="1.0"/>
<path d="M289.33,208.10L295.33,208.10M292.33,205.10L292.33,211.10" stroke="#ff0000" stroke-width="1.0"/>
<path d="M294.50,208.10L300.50,208.10M297.50,205.10L297.50,211.10" stroke="#ff0000" stroke-width="1.0"/>
<path d="M299.67,208.10L305.67,208.10M302.67,205.10L302.67,211.10" stroke="#ff0000" stroke-width="1.0"/>
<path d="M304.83,208.10L310.83,208.10M307.83,205.10L307.83,211.10" stroke="#ff0000" stroke-width="1.0"/>
<path d="M310.00,209.10L316.00,209.10M313.00,206.10L313.00,212.10" stroke="#ff0000" stroke-width="1.0"/>
<path d="M315.17,209.10L321.17,209.10M318.17,206.10L318.17,212.10" stroke="#ff0000" stroke-width="1.0"/>
<path d="M320.33,209.10L326.33,209.10M323.33,206.10L323.33,212.10" stroke="#ff0000" stroke-width="1.0"/>
<path d="M325.50,209.10L331.50,209.10M328.50,206.10L328.50,212.10" stroke="#ff0000" stroke-width="1.0"/>
<polyline points="23.67,64.40 28.83,74.90 34.00,81.70 39.17,88.10 44.33,95.30 49.50,95.70 54.67,96.30 59.83,102.30 65.00,103.00 70.17,103.70 75.33,105.80 80.50,107.20 85.67,108.20 90.83,109.00 96.00,109.90 101.17,110.60 106.33,111.20 111.50,111.70 116.67,112.70 121.83,113.80 127.00,114.70 132.17,116.00 137.33,117.00 142.50,117.18 147.67,117.36 152.83,117.53 158.00,117.71 163.17,117.89 168.33,118.07 173.50,118.24 178.67,118.44 183.83,118.64 189.00,118.86 194.17,119.08 199.33,119.30 204.50,119.52 209.67,119.74 214.83,119.96 220.00,120.18 225.17,120.40 230.33,121.07 235.50,121.73 240.67,122.40 245.83,122.73 251.00,123.05 256.17,123.38 261.33,123.70 266.50,124.27 271.67,124.83 276.83,125.40 282.00,125.62 287.17,125.85 292.33,126.08 297.50,126.30 302.67,126.65 307.83,127.00 313.00,127.35 318.17,127.70 323.33,128.05 328.50,128.40" fill="none" stroke="#00ffff" stroke-width="1.0" stroke-dasharray="4.1,3.3" clip-path="url(#clipa)"/>
<path d="M19.97,62.33L27.37,62.33L23.67,68.53Z" fill="none" stroke="#00ffff" stroke-width="1.0"/>
<path d="M25.13,72.83L32.53,72.83L28.83,79.03Z" fill="none" stroke="#00ffff" stroke-width="1.0"/>
<path d="M30.30,79.63L37.70,79.63L34.00,85.83Z" fill="none" stroke="#00ffff" stroke-width="1.0"/>
<path d="M35.47,86.03L42.87,86.03L39.17,92.23Z" fill="none" stroke="#00ffff" stroke-width="1.0"/>
<path d="M40.63,93.23L48.03,93.23L44.33,99.43Z" fill="none" stroke="#00ffff" stroke-width="1.0"/>
<path d="M45.80,93.63L53.20,93.63L49.50,99.83Z" fill="none" stroke="#00ffff" stroke-width="1.0"/>
<path d="M50.97,94.23L58.37,94.23L54.67,100.43Z" fill="none" stroke="#00ffff" stroke-width="1.0"/>
<path d="M56.13,100.23L63.53,100.23L59.83,106.43Z" fill="none" stroke="#00ffff" stroke-width="1.0"/>
<path d="M61.30,100.93L68.70,100.93L65.00,107.13Z" fill="none" stroke="#00ffff" stroke-width="1.0"/>
<path d="M66.47,101.63L73.87,101.63L70.17,107.83Z" fill="none" stroke="#00ffff" stroke-width="1.0"/>
<path d="M71.63,103.73L79.03,103.73L75.33,109.93Z" fill="none" stroke="#00ffff" stroke-width="1.0"/>
<path d="M76.80,105.13L84.20,105.13L80.50,111.33Z" fill="none" stroke="#00ffff" stroke-width="1.0"/>
<path d="M81.97,106.13L89.37,106.13L85.67,112.33Z" fill="none" stroke="#00ffff" stroke-width="1.0"/>
<path d="M87.13,106.93L94.53,106.93L90.83,113.13Z" fill="none" stroke="#00ffff" stroke-width="1.0"/>
<path d="M92.30,107.83L99.70,107.83L96.00,114.03Z" fill="none" stroke="#00ffff" stroke-width="1.0"/>
<path d="M97.47,108.53L104.87,108.53L101.17,114.73Z" fill="none" stroke="#00ffff" stroke-width="1.0"/>
<path d="M102.63,109.13L110.03,109.13L106.33,115.33Z" fill="none" stroke="#00ffff" stroke-width="1.0"/>
<path d="M107.80,109.63L115.20,109.63L111.50,115.83Z" fill="none" stroke="#00ffff" stroke-width="1.0"/>
<path d="M112.97,110.63L120.37,110.63L116.67,116.83Z" fill="none" stroke="#00ffff" stroke-width="1.0"/>
<path d="M118.13,111.73L125.53,111.73L121.83,117.93Z" fill="none" stroke="#00ffff" stroke-width="1.0"/>
<path d="M123.30,112.63L130.70,112.63L127.00,118.83Z" fill="none" stroke="#00ffff" stroke-width="1.0"/>
<path d="M128.47,113.93L135.87,113.93L132.17,120.13Z" fill="none" stroke="#00ffff" stroke-width="1.0"/>
<path d="M133.63,114.93L141.03,114.93L137.33,121.13Z" fill="none" stroke="#00ffff" stroke-width="1.0"/>
<path d="M138.80,115.11L146.20,115.11L142.50,121.31Z" fill="none" stroke="#00ffff" stroke-width="1.0"/>
<path d="M143.97,115.29L151.37,115.29L147.67,121.49Z" fill="none" stroke="#00ffff" stroke-width="1.0"/>
<path d="M149.13,115.47L156.53,115.47L152.83,121.67Z" fill="none" stroke="#00ffff" stroke-width="1.0"/>
<path d="M154.30,115.64L161.70,115.64L158.00,121.84Z" fill="none" stroke="#00ffff" stroke-width="1.0"/>
<path d="M159.47,115.82L166.87,115.82L163.17,122.02Z" fill="none" stroke="#00ffff" stroke-width="1.0"/>
<path d="M164.63,116.00L172.03,116.00L168.33,122.20Z" fill="none" stroke="#00ffff" stroke-width="1.0"/>
<path d="M169.80,116.18L177.20,116.18L173.50,122.38Z" fill="none" stroke="#00ffff" stroke-width="1.0"/>
<path d="M174.97,116.38L182.37,116.38L178.67,122.58Z" fill="none" stroke="#00ffff" stroke-width="1.0"/>
<path d="M180.13,116.57L187.53,116.57L183.83,122.77Z" fill="none" stroke="#00ffff" stroke-width="1.0"/>
<path d="M185.30,116.79L192.70,116.79L189.00,122.99Z" fill="none" stroke="#00ffff" stroke-width="1.0"/>
<path d="M190.47,117.01L197.87,117.01L194.17,123.21Z" fill="none" stroke="#00ffff" stroke-width="1.0"/>
<path d="M195.63,117.23L203.03,117.23L199.33,123.43Z" fill="none" stroke="#00ffff" stroke-width="1.0"/>
<path d="M200.80,117.45L208.20,117.45L204.50,123.65Z" fill="none" stroke="#00ffff" stroke-width="1.0"/>
<path d="M205.97,117.67L213.37,117.67L209.67,123.87Z" fill="none" stroke="#00ffff" stroke-width="1.0"/>
<path d="M211.13,117.89L218.53,117.89L214.83,124.09Z" fill="none" stroke="#00ffff" stroke-width="1.0"/>
<path d="M216.30,118.11L223.70,118.11L220.00,124.31Z" fill="none" stroke="#00ffff" stroke-width="1.0"/>
<path d="M221.47,118.33L228.87,118.33L225.17,124.53Z" fill="none" stroke="#00ffff" stroke-width="1.0"/>
<path d="M226.63,119.00L234.03,119.00L230.33,125.20Z" fill="none" stroke="#00ffff" stroke-width="1.0"/>
<path d="M231.80,119.67L239.20,119.67L235.50,125.87Z" fill="none" stroke="#00ffff" stroke-width="1.0"/>
<path d="M236.97,120.33L244.37,120.33L240.67,126.53Z" fill="none" stroke="#00ffff" stroke-width="1.0"/>
<path d="M242.13,120.66L249.53,120.66L245.83,126.86Z" fill="none" stroke="#00ffff" stroke-width="1.0"/>
<path d="M247.30,120.98L254.70,120.98L251.00,127.18Z" fill="none" stroke="#00ffff" stroke-width="1.0"/>
<path d="M252.47,121.31L259.87,121.31L256.17,127.51Z" fill="none" stroke="#00ffff" stroke-width="1.0"/>
<path d="M257.63,121.63L265.03,121.63L261.33,127.83Z" fill="none" stroke="#00ffff" stroke-width="1.0"/>
<path d="M262.80,122.20L270.20,122.20L266.50,128.40Z" fill="none" stroke="#00ffff" stroke-width="1.0"/>
<path d="M267.97,122.77L275.37,122.77L271.67,128.97Z" fill="none" stroke="#00ffff" stroke-width="1.0"/>
<path d="M273.13,123.33L280.53,123.33L276.83,129.53Z" fill="none" stroke="#00ffff" stroke-width="1.0"/>
<path d="M278.30,123.56L285.70,123.56L282.00,129.76Z" fill="none" stroke="#00ffff" stroke-width="1.0"/>
<path d="M283.47,123.78L290.87,123.78L287.17,129.98Z" fill="none" stroke="#00ffff" stroke-width="1.0"/>
<path d="M288.63,124.01L296.03,124.01L292.33,130.21Z" fill="none" stroke="#00ffff" stroke-width="1.0"/>
<path d="M293.80,124.23L301.20,124.23L297.50,130.43Z" fill="none" stroke="#00ffff" stroke-width="1.0"/>
<path d="M298.97,124.58L306.37,124.58L302.67,130.78Z" fill="none" stroke="#00ffff" stroke-width="1.0"/>
<path d="M304.13,124.93L311.53,124.93L307.83,131.13Z" fill="none" stroke="#00ffff" stroke-width="1.0"/>
<path d="M309.30,125.28L316.70,125.28L313.00,131.48Z" fill="none" stroke="#00ffff" stroke-width="1.0"/>
<path d="M314.47,125.63L321.87,125.63L318.17,131.83Z" fill="none" stroke="#00ffff" stroke-width="1.0"/>
<path d="M319.63,125.98L327.03,125.98L323.33,132.18Z" fill="none" stroke="#00ffff" stroke-width="1.0"/>
<path d="M324.80,126.33L332.20,126.33L328.50,132.53Z" fill="none" stroke="#00ffff" stroke-width="1.0"/>
<rect x="18.5" y="13.5" width="310" height="244" fill="none" stroke="#808080" stroke-width="1"/>
<path d="M18.50,257.5V254.4M18.50,13.5V16.6" stroke="#808080" stroke-width="1"/>
<path d="M70.17,257.5V254.4M70.17,13.5V16.6" stroke="#808080" stroke-width="1"/>
<path d="M121.83,257.5V254.4M121.83,13.5V16.6" stroke="#808080" stroke-width="1"/>
<path d="M173.50,257.5V254.4M173.50,13.5V16.6" stroke="#808080" stroke-width="1"/>
<path d="M225.17,257.5V254.4M225.17,13.5V16.6" stroke="#808080" stroke-width="1"/>
<path d="M276.83,257.5V254.4M276.83,13.5V16.6" stroke="#808080" stroke-width="1"/>
<path d="M328.50,257.5V254.4M328.50,13.5V16.6" stroke="#808080" stroke-width="1"/>
<path d="M18.5,257.50H21.6M328.5,257.50H325.4" stroke="#808080" stroke-width="1"/>
<path d="M18.5,233.10H21.6M328.5,233.10H325.4" stroke="#808080" stroke-width="1"/>
<path d="M18.5,208.70H21.6M328.5,208.70H325.4" stroke="#808080" stroke-width="1"/>
<path d="M18.5,184.30H21.6M328.5,184.30H325.4" stroke="#808080" stroke-width="1"/>
<path d="M18.5,159.90H21.6M328.5,159.90H325.4" stroke="#808080" stroke-width="1"/>
<path d="M18.5,135.50H21.6M328.5,135.50H325.4" stroke="#808080" stroke-width="1"/>
<path d="M18.5,111.10H21.6M328.5,111.10H325.4" stroke="#808080" stroke-width="1"/>
<path d="M18.5,86.70H21.6M328.5,86.70H325.4" stroke="#808080" stroke-width="1"/>
<path d="M18.5,62.30H21.6M328.5,62.30H325.4" stroke="#808080" stroke-width="1"/>
<path d="M18.5,37.90H21.6M328.5,37.90H325.4" stroke="#808080" stroke-width="1"/>
<path d="M18.5,13.50H21.6M328.5,13.50H325.4" stroke="#808080" stroke-width="1"/>
<text transform="translate(18.50,271.1) scale(0.93,1)" text-anchor="middle" class="t tk">0</text>
<text transform="translate(70.17,271.1) scale(0.93,1)" text-anchor="middle" class="t tk">10</text>
<text transform="translate(121.83,271.1) scale(0.93,1)" text-anchor="middle" class="t tk">20</text>
<text transform="translate(173.50,271.1) scale(0.93,1)" text-anchor="middle" class="t tk">30</text>
<text transform="translate(225.17,271.1) scale(0.93,1)" text-anchor="middle" class="t tk">40</text>
<text transform="translate(276.83,271.1) scale(0.93,1)" text-anchor="middle" class="t tk">50</text>
<text transform="translate(328.50,271.1) scale(0.93,1)" text-anchor="middle" class="t tk">60</text>
<text transform="translate(14.10,261.50) scale(0.93,1)" text-anchor="end" class="t tk">1</text>
<text transform="translate(14.10,237.10) scale(0.93,1)" text-anchor="end" class="t tk">1.5</text>
<text transform="translate(14.10,212.70) scale(0.93,1)" text-anchor="end" class="t tk">2</text>
<text transform="translate(14.10,188.30) scale(0.93,1)" text-anchor="end" class="t tk">2.5</text>
<text transform="translate(14.10,163.90) scale(0.93,1)" text-anchor="end" class="t tk">3</text>
<text transform="translate(14.10,139.50) scale(0.93,1)" text-anchor="end" class="t tk">3.5</text>
<text transform="translate(14.10,115.10) scale(0.93,1)" text-anchor="end" class="t tk">4</text>
<text transform="translate(14.10,90.70) scale(0.93,1)" text-anchor="end" class="t tk">4.5</text>
<text transform="translate(14.10,66.30) scale(0.93,1)" text-anchor="end" class="t tk">5</text>
<text transform="translate(14.10,41.90) scale(0.93,1)" text-anchor="end" class="t tk">5.5</text>
<text transform="translate(14.10,17.50) scale(0.93,1)" text-anchor="end" class="t tk">6</text>
<text x="19.30" y="11.7" class="t" style="fill:#4a4a4a">&#215;</text>
<text x="24.90" y="11.7" class="t">10</text>
<text x="36.90" y="6.6" class="t" style="font-size:7.6px">6</text>
<text x="173.20" y="284.6" text-anchor="middle" class="t" style="font-size:10.5px">(a)</text>
<rect x="237.8" y="20.45" width="82.60" height="72.95" fill="#fff" stroke="#808080" stroke-width="1"/>
<path d="M240.70,27.60H269.50" stroke="#ffff00" stroke-width="1.0"/>
<path d="M253.33,24.00L258.93,27.60L253.33,31.20Z" fill="none" stroke="#ffff00" stroke-width="1.0"/>
<text x="271.30" y="31.10" class="l">HCOA</text>
<path d="M240.70,39.40H269.50" stroke="#000000" stroke-width="1.0"/>
<path d="M255.20,35.60L258.00,39.40L255.20,43.20L252.40,39.40Z" fill="none" stroke="#000000" stroke-width="1.0"/>
<text x="271.30" y="42.90" class="l">BBPSO</text>
<path d="M240.70,51.20H269.50" stroke="#00ff00" stroke-width="1.0"/>
<circle cx="255.20" cy="51.20" r="2.75" fill="none" stroke="#00ff00" stroke-width="1.0"/>
<text x="271.30" y="54.70" class="l">PBBPSO</text>
<path d="M240.70,62.90H269.50" stroke="#0000ff" stroke-width="1.0"/>
<path d="M252.50,62.90H257.90M255.20,60.20V65.60M253.26,60.96L257.14,64.84M253.26,64.84L257.14,60.96" stroke="#0000ff" stroke-width="1.15"/>
<text x="271.30" y="66.40" class="l">DLSBBPSO</text>
<path d="M240.70,74.65H269.50" stroke="#ff0000" stroke-width="1.0" stroke-dasharray="4.1,3.3"/>
<path d="M252.20,74.65L258.20,74.65M255.20,71.65L255.20,77.65" stroke="#ff0000" stroke-width="1.0"/>
<text x="271.30" y="78.15" class="l">TBBPSO</text>
<path d="M240.70,86.10H269.50" stroke="#00ffff" stroke-width="1.0" stroke-dasharray="4.1,3.3"/>
<path d="M251.50,84.03L258.90,84.03L255.20,90.23Z" fill="none" stroke="#00ffff" stroke-width="1.0"/>
<text x="271.30" y="89.60" class="l">ETBBPSO</text>
<clipPath id="clipb"><rect x="373.5" y="13.5" width="310" height="244"/></clipPath>
<polyline points="380.39,222.00 387.28,222.37 394.17,222.74 401.06,223.11 407.94,223.48 414.83,223.85 421.72,224.22 428.61,224.59 435.50,224.96 442.39,225.33 449.28,225.70 456.17,226.07 463.06,226.44 469.94,226.81 476.83,227.18 483.72,227.55 490.61,227.92 497.50,228.29 504.39,228.66 511.28,229.03 518.17,229.40 525.06,229.77 531.94,230.14 538.83,230.51 545.72,230.88 552.61,231.25 559.50,231.62 566.39,231.99 573.28,232.36 580.17,232.73 587.06,233.10 593.94,233.47 600.83,233.84 607.72,234.21 614.61,234.58 621.50,234.95 628.39,235.32 635.28,235.69 642.17,236.06 649.06,236.43 655.94,236.80" fill="none" stroke="#ffff00" stroke-width="1.0" clip-path="url(#clipb)"/>
<path d="M378.52,218.40L384.12,222.00L378.52,225.60Z" fill="none" stroke="#ffff00" stroke-width="1.0"/>
<path d="M385.41,218.77L391.01,222.37L385.41,225.97Z" fill="none" stroke="#ffff00" stroke-width="1.0"/>
<path d="M392.30,219.14L397.90,222.74L392.30,226.34Z" fill="none" stroke="#ffff00" stroke-width="1.0"/>
<path d="M399.19,219.51L404.79,223.11L399.19,226.71Z" fill="none" stroke="#ffff00" stroke-width="1.0"/>
<path d="M406.08,219.88L411.68,223.48L406.08,227.08Z" fill="none" stroke="#ffff00" stroke-width="1.0"/>
<path d="M412.97,220.25L418.57,223.85L412.97,227.45Z" fill="none" stroke="#ffff00" stroke-width="1.0"/>
<path d="M419.86,220.62L425.46,224.22L419.86,227.82Z" fill="none" stroke="#ffff00" stroke-width="1.0"/>
<path d="M426.74,220.99L432.34,224.59L426.74,228.19Z" fill="none" stroke="#ffff00" stroke-width="1.0"/>
<path d="M433.63,221.36L439.23,224.96L433.63,228.56Z" fill="none" stroke="#ffff00" stroke-width="1.0"/>
<path d="M440.52,221.73L446.12,225.33L440.52,228.93Z" fill="none" stroke="#ffff00" stroke-width="1.0"/>
<path d="M447.41,222.10L453.01,225.70L447.41,229.30Z" fill="none" stroke="#ffff00" stroke-width="1.0"/>
<path d="M454.30,222.47L459.90,226.07L454.30,229.67Z" fill="none" stroke="#ffff00" stroke-width="1.0"/>
<path d="M461.19,222.84L466.79,226.44L461.19,230.04Z" fill="none" stroke="#ffff00" stroke-width="1.0"/>
<path d="M468.08,223.21L473.68,226.81L468.08,230.41Z" fill="none" stroke="#ffff00" stroke-width="1.0"/>
<path d="M474.97,223.58L480.57,227.18L474.97,230.78Z" fill="none" stroke="#ffff00" stroke-width="1.0"/>
<path d="M481.86,223.95L487.46,227.55L481.86,231.15Z" fill="none" stroke="#ffff00" stroke-width="1.0"/>
<path d="M488.74,224.32L494.34,227.92L488.74,231.52Z" fill="none" stroke="#ffff00" stroke-width="1.0"/>
<path d="M495.63,224.69L501.23,228.29L495.63,231.89Z" fill="none" stroke="#ffff00" stroke-width="1.0"/>
<path d="M502.52,225.06L508.12,228.66L502.52,232.26Z" fill="none" stroke="#ffff00" stroke-width="1.0"/>
<path d="M509.41,225.43L515.01,229.03L509.41,232.63Z" fill="none" stroke="#ffff00" stroke-width="1.0"/>
<path d="M516.30,225.80L521.90,229.40L516.30,233.00Z" fill="none" stroke="#ffff00" stroke-width="1.0"/>
<path d="M523.19,226.17L528.79,229.77L523.19,233.37Z" fill="none" stroke="#ffff00" stroke-width="1.0"/>
<path d="M530.08,226.54L535.68,230.14L530.08,233.74Z" fill="none" stroke="#ffff00" stroke-width="1.0"/>
<path d="M536.97,226.91L542.57,230.51L536.97,234.11Z" fill="none" stroke="#ffff00" stroke-width="1.0"/>
<path d="M543.86,227.28L549.46,230.88L543.86,234.48Z" fill="none" stroke="#ffff00" stroke-width="1.0"/>
<path d="M550.74,227.65L556.34,231.25L550.74,234.85Z" fill="none" stroke="#ffff00" stroke-width="1.0"/>
<path d="M557.63,228.02L563.23,231.62L557.63,235.22Z" fill="none" stroke="#ffff00" stroke-width="1.0"/>
<path d="M564.52,228.39L570.12,231.99L564.52,235.59Z" fill="none" stroke="#ffff00" stroke-width="1.0"/>
<path d="M571.41,228.76L577.01,232.36L571.41,235.96Z" fill="none" stroke="#ffff00" stroke-width="1.0"/>
<path d="M578.30,229.13L583.90,232.73L578.30,236.33Z" fill="none" stroke="#ffff00" stroke-width="1.0"/>
<path d="M585.19,229.50L590.79,233.10L585.19,236.70Z" fill="none" stroke="#ffff00" stroke-width="1.0"/>
<path d="M592.08,229.87L597.68,233.47L592.08,237.07Z" fill="none" stroke="#ffff00" stroke-width="1.0"/>
<path d="M598.97,230.24L604.57,233.84L598.97,237.44Z" fill="none" stroke="#ffff00" stroke-width="1.0"/>
<path d="M605.86,230.61L611.46,234.21L605.86,237.81Z" fill="none" stroke="#ffff00" stroke-width="1.0"/>
<path d="M612.74,230.98L618.34,234.58L612.74,238.18Z" fill="none" stroke="#ffff00" stroke-width="1.0"/>
<path d="M619.63,231.35L625.23,234.95L619.63,238.55Z" fill="none" stroke="#ffff00" stroke-width="1.0"/>
<path d="M626.52,231.72L632.12,235.32L626.52,238.92Z" fill="none" stroke="#ffff00" stroke-width="1.0"/>
<path d="M633.41,232.09L639.01,235.69L633.41,239.29Z" fill="none" stroke="#ffff00" stroke-width="1.0"/>
<path d="M640.30,232.46L645.90,236.06L640.30,239.66Z" fill="none" stroke="#ffff00" stroke-width="1.0"/>
<path d="M647.19,232.83L652.79,236.43L647.19,240.03Z" fill="none" stroke="#ffff00" stroke-width="1.0"/>
<path d="M654.08,233.20L659.68,236.80L654.08,240.40Z" fill="none" stroke="#ffff00" stroke-width="1.0"/>
<polyline points="380.39,38.80 387.28,39.30 394.17,41.10 401.06,42.00 407.94,42.00 414.83,42.00 421.72,44.70 428.61,47.30 435.50,47.30 442.39,47.30 449.28,47.30 456.17,47.30 463.06,47.90 469.94,48.80 476.83,49.20 483.72,51.00 490.61,54.00 497.50,54.00 504.39,54.40 511.28,54.80 518.17,54.90 525.06,55.00 531.94,55.10 538.83,55.40 545.72,56.00 552.61,56.10 559.50,56.30 566.39,56.60 573.28,57.50 580.17,57.90 587.06,58.20 593.94,58.80 600.83,59.10 607.72,59.34 614.61,59.58 621.50,59.81 628.39,60.05 635.28,60.29 642.17,60.52 649.06,60.76 655.94,61.00" fill="none" stroke="#000000" stroke-width="1.0" clip-path="url(#clipb)"/>
<path d="M380.39,35.00L383.19,38.80L380.39,42.60L377.59,38.80Z" fill="none" stroke="#000000" stroke-width="1.0"/>
<path d="M387.28,35.50L390.08,39.30L387.28,43.10L384.48,39.30Z" fill="none" stroke="#000000" stroke-width="1.0"/>
<path d="M394.17,37.30L396.97,41.10L394.17,44.90L391.37,41.10Z" fill="none" stroke="#000000" stroke-width="1.0"/>
<path d="M401.06,38.20L403.86,42.00L401.06,45.80L398.26,42.00Z" fill="none" stroke="#000000" stroke-width="1.0"/>
<path d="M407.94,38.20L410.74,42.00L407.94,45.80L405.14,42.00Z" fill="none" stroke="#000000" stroke-width="1.0"/>
<path d="M414.83,38.20L417.63,42.00L414.83,45.80L412.03,42.00Z" fill="none" stroke="#000000" stroke-width="1.0"/>
<path d="M421.72,40.90L424.52,44.70L421.72,48.50L418.92,44.70Z" fill="none" stroke="#000000" stroke-width="1.0"/>
<path d="M428.61,43.50L431.41,47.30L428.61,51.10L425.81,47.30Z" fill="none" stroke="#000000" stroke-width="1.0"/>
<path d="M435.50,43.50L438.30,47.30L435.50,51.10L432.70,47.30Z" fill="none" stroke="#000000" stroke-width="1.0"/>
<path d="M442.39,43.50L445.19,47.30L442.39,51.10L439.59,47.30Z" fill="none" stroke="#000000" stroke-width="1.0"/>
<path d="M449.28,43.50L452.08,47.30L449.28,51.10L446.48,47.30Z" fill="none" stroke="#000000" stroke-width="1.0"/>
<path d="M456.17,43.50L458.97,47.30L456.17,51.10L453.37,47.30Z" fill="none" stroke="#000000" stroke-width="1.0"/>
<path d="M463.06,44.10L465.86,47.90L463.06,51.70L460.26,47.90Z" fill="none" stroke="#000000" stroke-width="1.0"/>
<path d="M469.94,45.00L472.74,48.80L469.94,52.60L467.14,48.80Z" fill="none" stroke="#000000" stroke-width="1.0"/>
<path d="M476.83,45.40L479.63,49.20L476.83,53.00L474.03,49.20Z" fill="none" stroke="#000000" stroke-width="1.0"/>
<path d="M483.72,47.20L486.52,51.00L483.72,54.80L480.92,51.00Z" fill="none" stroke="#000000" stroke-width="1.0"/>
<path d="M490.61,50.20L493.41,54.00L490.61,57.80L487.81,54.00Z" fill="none" stroke="#000000" stroke-width="1.0"/>
<path d="M497.50,50.20L500.30,54.00L497.50,57.80L494.70,54.00Z" fill="none" stroke="#000000" stroke-width="1.0"/>
<path d="M504.39,50.60L507.19,54.40L504.39,58.20L501.59,54.40Z" fill="none" stroke="#000000" stroke-width="1.0"/>
<path d="M511.28,51.00L514.08,54.80L511.28,58.60L508.48,54.80Z" fill="none" stroke="#000000" stroke-width="1.0"/>
<path d="M518.17,51.10L520.97,54.90L518.17,58.70L515.37,54.90Z" fill="none" stroke="#000000" stroke-width="1.0"/>
<path d="M525.06,51.20L527.86,55.00L525.06,58.80L522.26,55.00Z" fill="none" stroke="#000000" stroke-width="1.0"/>
<path d="M531.94,51.30L534.74,55.10L531.94,58.90L529.14,55.10Z" fill="none" stroke="#000000" stroke-width="1.0"/>
<path d="M538.83,51.60L541.63,55.40L538.83,59.20L536.03,55.40Z" fill="none" stroke="#000000" stroke-width="1.0"/>
<path d="M545.72,52.20L548.52,56.00L545.72,59.80L542.92,56.00Z" fill="none" stroke="#000000" stroke-width="1.0"/>
<path d="M552.61,52.30L555.41,56.10L552.61,59.90L549.81,56.10Z" fill="none" stroke="#000000" stroke-width="1.0"/>
<path d="M559.50,52.50L562.30,56.30L559.50,60.10L556.70,56.30Z" fill="none" stroke="#000000" stroke-width="1.0"/>
<path d="M566.39,52.80L569.19,56.60L566.39,60.40L563.59,56.60Z" fill="none" stroke="#000000" stroke-width="1.0"/>
<path d="M573.28,53.70L576.08,57.50L573.28,61.30L570.48,57.50Z" fill="none" stroke="#000000" stroke-width="1.0"/>
<path d="M580.17,54.10L582.97,57.90L580.17,61.70L577.37,57.90Z" fill="none" stroke="#000000" stroke-width="1.0"/>
<path d="M587.06,54.40L589.86,58.20L587.06,62.00L584.26,58.20Z" fill="none" stroke="#000000" stroke-width="1.0"/>
<path d="M593.94,55.00L596.74,58.80L593.94,62.60L591.14,58.80Z" fill="none" stroke="#000000" stroke-width="1.0"/>
<path d="M600.83,55.30L603.63,59.10L600.83,62.90L598.03,59.10Z" fill="none" stroke="#000000" stroke-width="1.0"/>
<path d="M607.72,55.54L610.52,59.34L607.72,63.14L604.92,59.34Z" fill="none" stroke="#000000" stroke-width="1.0"/>
<path d="M614.61,55.78L617.41,59.58L614.61,63.38L611.81,59.58Z" fill="none" stroke="#000000" stroke-width="1.0"/>
<path d="M621.50,56.01L624.30,59.81L621.50,63.61L618.70,59.81Z" fill="none" stroke="#000000" stroke-width="1.0"/>
<path d="M628.39,56.25L631.19,60.05L628.39,63.85L625.59,60.05Z" fill="none" stroke="#000000" stroke-width="1.0"/>
<path d="M635.28,56.49L638.08,60.29L635.28,64.09L632.48,60.29Z" fill="none" stroke="#000000" stroke-width="1.0"/>
<path d="M642.17,56.73L644.97,60.52L642.17,64.33L639.37,60.52Z" fill="none" stroke="#000000" stroke-width="1.0"/>
<path d="M649.06,56.96L651.86,60.76L649.06,64.56L646.26,60.76Z" fill="none" stroke="#000000" stroke-width="1.0"/>
<path d="M655.94,57.20L658.74,61.00L655.94,64.80L653.14,61.00Z" fill="none" stroke="#000000" stroke-width="1.0"/>
<polyline points="380.39,68.10 387.28,68.23 394.17,68.36 401.06,68.49 407.94,68.61 414.83,68.74 421.72,68.87 428.61,69.00 435.50,69.36 442.39,69.72 449.28,70.08 456.17,70.44 463.06,70.80 469.94,70.87 476.83,70.93 483.72,71.00 490.61,71.07 497.50,71.13 504.39,71.20 511.28,76.80 518.17,76.87 525.06,76.94 531.94,77.01 538.83,77.09 545.72,77.16 552.61,77.23 559.50,77.30 566.39,77.36 573.28,77.42 580.17,77.48 587.06,77.54 593.94,77.60 600.83,77.64 607.72,77.69 614.61,77.73 621.50,77.78 628.39,77.82 635.28,77.87 642.17,77.91 649.06,77.96 655.94,78.00" fill="none" stroke="#00ff00" stroke-width="1.0" clip-path="url(#clipb)"/>
<circle cx="380.39" cy="68.10" r="2.75" fill="none" stroke="#00ff00" stroke-width="1.0"/>
<circle cx="387.28" cy="68.23" r="2.75" fill="none" stroke="#00ff00" stroke-width="1.0"/>
<circle cx="394.17" cy="68.36" r="2.75" fill="none" stroke="#00ff00" stroke-width="1.0"/>
<circle cx="401.06" cy="68.49" r="2.75" fill="none" stroke="#00ff00" stroke-width="1.0"/>
<circle cx="407.94" cy="68.61" r="2.75" fill="none" stroke="#00ff00" stroke-width="1.0"/>
<circle cx="414.83" cy="68.74" r="2.75" fill="none" stroke="#00ff00" stroke-width="1.0"/>
<circle cx="421.72" cy="68.87" r="2.75" fill="none" stroke="#00ff00" stroke-width="1.0"/>
<circle cx="428.61" cy="69.00" r="2.75" fill="none" stroke="#00ff00" stroke-width="1.0"/>
<circle cx="435.50" cy="69.36" r="2.75" fill="none" stroke="#00ff00" stroke-width="1.0"/>
<circle cx="442.39" cy="69.72" r="2.75" fill="none" stroke="#00ff00" stroke-width="1.0"/>
<circle cx="449.28" cy="70.08" r="2.75" fill="none" stroke="#00ff00" stroke-width="1.0"/>
<circle cx="456.17" cy="70.44" r="2.75" fill="none" stroke="#00ff00" stroke-width="1.0"/>
<circle cx="463.06" cy="70.80" r="2.75" fill="none" stroke="#00ff00" stroke-width="1.0"/>
<circle cx="469.94" cy="70.87" r="2.75" fill="none" stroke="#00ff00" stroke-width="1.0"/>
<circle cx="476.83" cy="70.93" r="2.75" fill="none" stroke="#00ff00" stroke-width="1.0"/>
<circle cx="483.72" cy="71.00" r="2.75" fill="none" stroke="#00ff00" stroke-width="1.0"/>
<circle cx="490.61" cy="71.07" r="2.75" fill="none" stroke="#00ff00" stroke-width="1.0"/>
<circle cx="497.50" cy="71.13" r="2.75" fill="none" stroke="#00ff00" stroke-width="1.0"/>
<circle cx="504.39" cy="71.20" r="2.75" fill="none" stroke="#00ff00" stroke-width="1.0"/>
<circle cx="511.28" cy="76.80" r="2.75" fill="none" stroke="#00ff00" stroke-width="1.0"/>
<circle cx="518.17" cy="76.87" r="2.75" fill="none" stroke="#00ff00" stroke-width="1.0"/>
<circle cx="525.06" cy="76.94" r="2.75" fill="none" stroke="#00ff00" stroke-width="1.0"/>
<circle cx="531.94" cy="77.01" r="2.75" fill="none" stroke="#00ff00" stroke-width="1.0"/>
<circle cx="538.83" cy="77.09" r="2.75" fill="none" stroke="#00ff00" stroke-width="1.0"/>
<circle cx="545.72" cy="77.16" r="2.75" fill="none" stroke="#00ff00" stroke-width="1.0"/>
<circle cx="552.61" cy="77.23" r="2.75" fill="none" stroke="#00ff00" stroke-width="1.0"/>
<circle cx="559.50" cy="77.30" r="2.75" fill="none" stroke="#00ff00" stroke-width="1.0"/>
<circle cx="566.39" cy="77.36" r="2.75" fill="none" stroke="#00ff00" stroke-width="1.0"/>
<circle cx="573.28" cy="77.42" r="2.75" fill="none" stroke="#00ff00" stroke-width="1.0"/>
<circle cx="580.17" cy="77.48" r="2.75" fill="none" stroke="#00ff00" stroke-width="1.0"/>
<circle cx="587.06" cy="77.54" r="2.75" fill="none" stroke="#00ff00" stroke-width="1.0"/>
<circle cx="593.94" cy="77.60" r="2.75" fill="none" stroke="#00ff00" stroke-width="1.0"/>
<circle cx="600.83" cy="77.64" r="2.75" fill="none" stroke="#00ff00" stroke-width="1.0"/>
<circle cx="607.72" cy="77.69" r="2.75" fill="none" stroke="#00ff00" stroke-width="1.0"/>
<circle cx="614.61" cy="77.73" r="2.75" fill="none" stroke="#00ff00" stroke-width="1.0"/>
<circle cx="621.50" cy="77.78" r="2.75" fill="none" stroke="#00ff00" stroke-width="1.0"/>
<circle cx="628.39" cy="77.82" r="2.75" fill="none" stroke="#00ff00" stroke-width="1.0"/>
<circle cx="635.28" cy="77.87" r="2.75" fill="none" stroke="#00ff00" stroke-width="1.0"/>
<circle cx="642.17" cy="77.91" r="2.75" fill="none" stroke="#00ff00" stroke-width="1.0"/>
<circle cx="649.06" cy="77.96" r="2.75" fill="none" stroke="#00ff00" stroke-width="1.0"/>
<circle cx="655.94" cy="78.00" r="2.75" fill="none" stroke="#00ff00" stroke-width="1.0"/>
<polyline points="380.39,70.80 387.28,70.80 394.17,70.80 401.06,70.80 407.94,70.80 414.83,73.80 421.72,74.50 428.61,75.20 435.50,75.50 442.39,75.53 449.28,75.56 456.17,75.59 463.06,75.62 469.94,75.65 476.83,75.68 483.72,75.71 490.61,75.74 497.50,75.77 504.39,75.80 511.28,77.00 518.17,77.03 525.06,77.06 531.94,77.09 538.83,77.11 545.72,77.14 552.61,77.17 559.50,77.20 566.39,79.80 573.28,79.80 580.17,79.80 587.06,79.80 593.94,80.00 600.83,80.11 607.72,80.22 614.61,80.33 621.50,80.44 628.39,80.56 635.28,80.67 642.17,80.78 649.06,80.89 655.94,81.00" fill="none" stroke="#0000ff" stroke-width="1.0" clip-path="url(#clipb)"/>
<path d="M377.69,70.80H383.09M380.39,68.10V73.50M378.44,68.86L382.33,72.74M378.44,72.74L382.33,68.86" stroke="#0000ff" stroke-width="1.15"/>
<path d="M384.58,70.80H389.98M387.28,68.10V73.50M385.33,68.86L389.22,72.74M385.33,72.74L389.22,68.86" stroke="#0000ff" stroke-width="1.15"/>
<path d="M391.47,70.80H396.87M394.17,68.10V73.50M392.22,68.86L396.11,72.74M392.22,72.74L396.11,68.86" stroke="#0000ff" stroke-width="1.15"/>
<path d="M398.36,70.80H403.76M401.06,68.10V73.50M399.11,68.86L403.00,72.74M399.11,72.74L403.00,68.86" stroke="#0000ff" stroke-width="1.15"/>
<path d="M405.24,70.80H410.64M407.94,68.10V73.50M406.00,68.86L409.89,72.74M406.00,72.74L409.89,68.86" stroke="#0000ff" stroke-width="1.15"/>
<path d="M412.13,73.80H417.53M414.83,71.10V76.50M412.89,71.86L416.78,75.74M412.89,75.74L416.78,71.86" stroke="#0000ff" stroke-width="1.15"/>
<path d="M419.02,74.50H424.42M421.72,71.80V77.20M419.78,72.56L423.67,76.44M419.78,76.44L423.67,72.56" stroke="#0000ff" stroke-width="1.15"/>
<path d="M425.91,75.20H431.31M428.61,72.50V77.90M426.67,73.26L430.56,77.14M426.67,77.14L430.56,73.26" stroke="#0000ff" stroke-width="1.15"/>
<path d="M432.80,75.50H438.20M435.50,72.80V78.20M433.56,73.56L437.44,77.44M433.56,77.44L437.44,73.56" stroke="#0000ff" stroke-width="1.15"/>
<path d="M439.69,75.53H445.09M442.39,72.83V78.23M440.44,73.59L444.33,77.47M440.44,77.47L444.33,73.59" stroke="#0000ff" stroke-width="1.15"/>
<path d="M446.58,75.56H451.98M449.28,72.86V78.26M447.33,73.62L451.22,77.50M447.33,77.50L451.22,73.62" stroke="#0000ff" stroke-width="1.15"/>
<path d="M453.47,75.59H458.87M456.17,72.89V78.29M454.22,73.65L458.11,77.53M454.22,77.53L458.11,73.65" stroke="#0000ff" stroke-width="1.15"/>
<path d="M460.36,75.62H465.76M463.06,72.92V78.32M461.11,73.68L465.00,77.56M461.11,77.56L465.00,73.68" stroke="#0000ff" stroke-width="1.15"/>
<path d="M467.24,75.65H472.64M469.94,72.95V78.35M468.00,73.71L471.89,77.59M468.00,77.59L471.89,73.71" stroke="#0000ff" stroke-width="1.15"/>
<path d="M474.13,75.68H479.53M476.83,72.98V78.38M474.89,73.74L478.78,77.62M474.89,77.62L478.78,73.74" stroke="#0000ff" stroke-width="1.15"/>
<path d="M481.02,75.71H486.42M483.72,73.01V78.41M481.78,73.77L485.67,77.65M481.78,77.65L485.67,73.77" stroke="#0000ff" stroke-width="1.15"/>
<path d="M487.91,75.74H493.31M490.61,73.04V78.44M488.67,73.80L492.56,77.68M488.67,77.68L492.56,73.80" stroke="#0000ff" stroke-width="1.15"/>
<path d="M494.80,75.77H500.20M497.50,73.07V78.47M495.56,73.83L499.44,77.71M495.56,77.71L499.44,73.83" stroke="#0000ff" stroke-width="1.15"/>
<path d="M501.69,75.80H507.09M504.39,73.10V78.50M502.44,73.86L506.33,77.74M502.44,77.74L506.33,73.86" stroke="#0000ff" stroke-width="1.15"/>
<path d="M508.58,77.00H513.98M511.28,74.30V79.70M509.33,75.06L513.22,78.94M509.33,78.94L513.22,75.06" stroke="#0000ff" stroke-width="1.15"/>
<path d="M515.47,77.03H520.87M518.17,74.33V79.73M516.22,75.08L520.11,78.97M516.22,78.97L520.11,75.08" stroke="#0000ff" stroke-width="1.15"/>
<path d="M522.36,77.06H527.76M525.06,74.36V79.76M523.11,75.11L527.00,79.00M523.11,79.00L527.00,75.11" stroke="#0000ff" stroke-width="1.15"/>
<path d="M529.24,77.09H534.64M531.94,74.39V79.79M530.00,75.14L533.89,79.03M530.00,79.03L533.89,75.14" stroke="#0000ff" stroke-width="1.15"/>
<path d="M536.13,77.11H541.53M538.83,74.41V79.81M536.89,75.17L540.78,79.06M536.89,79.06L540.78,75.17" stroke="#0000ff" stroke-width="1.15"/>
<path d="M543.02,77.14H548.42M545.72,74.44V79.84M543.78,75.20L547.67,79.09M543.78,79.09L547.67,75.20" stroke="#0000ff" stroke-width="1.15"/>
<path d="M549.91,77.17H555.31M552.61,74.47V79.87M550.67,75.23L554.56,79.12M550.67,79.12L554.56,75.23" stroke="#0000ff" stroke-width="1.15"/>
<path d="M556.80,77.20H562.20M559.50,74.50V79.90M557.56,75.26L561.44,79.14M557.56,79.14L561.44,75.26" stroke="#0000ff" stroke-width="1.15"/>
<path d="M563.69,79.80H569.09M566.39,77.10V82.50M564.44,77.86L568.33,81.74M564.44,81.74L568.33,77.86" stroke="#0000ff" stroke-width="1.15"/>
<path d="M570.58,79.80H575.98M573.28,77.10V82.50M571.33,77.86L575.22,81.74M571.33,81.74L575.22,77.86" stroke="#0000ff" stroke-width="1.15"/>
<path d="M577.47,79.80H582.87M580.17,77.10V82.50M578.22,77.86L582.11,81.74M578.22,81.74L582.11,77.86" stroke="#0000ff" stroke-width="1.15"/>
<path d="M584.36,79.80H589.76M587.06,77.10V82.50M585.11,77.86L589.00,81.74M585.11,81.74L589.00,77.86" stroke="#0000ff" stroke-width="1.15"/>
<path d="M591.24,80.00H596.64M593.94,77.30V82.70M592.00,78.06L595.89,81.94M592.00,81.94L595.89,78.06" stroke="#0000ff" stroke-width="1.15"/>
<path d="M598.13,80.11H603.53M600.83,77.41V82.81M598.89,78.17L602.78,82.06M598.89,82.06L602.78,78.17" stroke="#0000ff" stroke-width="1.15"/>
<path d="M605.02,80.22H610.42M607.72,77.52V82.92M605.78,78.28L609.67,82.17M605.78,82.17L609.67,78.28" stroke="#0000ff" stroke-width="1.15"/>
<path d="M611.91,80.33H617.31M614.61,77.63V83.03M612.67,78.39L616.56,82.28M612.67,82.28L616.56,78.39" stroke="#0000ff" stroke-width="1.15"/>
<path d="M618.80,80.44H624.20M621.50,77.74V83.14M619.56,78.50L623.44,82.39M619.56,82.39L623.44,78.50" stroke="#0000ff" stroke-width="1.15"/>
<path d="M625.69,80.56H631.09M628.39,77.86V83.26M626.44,78.61L630.33,82.50M626.44,82.50L630.33,78.61" stroke="#0000ff" stroke-width="1.15"/>
<path d="M632.58,80.67H637.98M635.28,77.97V83.37M633.33,78.72L637.22,82.61M633.33,82.61L637.22,78.72" stroke="#0000ff" stroke-width="1.15"/>
<path d="M639.47,80.78H644.87M642.17,78.08V83.48M640.22,78.83L644.11,82.72M640.22,82.72L644.11,78.83" stroke="#0000ff" stroke-width="1.15"/>
<path d="M646.36,80.89H651.76M649.06,78.19V83.59M647.11,78.94L651.00,82.83M647.11,82.83L651.00,78.94" stroke="#0000ff" stroke-width="1.15"/>
<path d="M653.24,81.00H658.64M655.94,78.30V83.70M654.00,79.06L657.89,82.94M654.00,82.94L657.89,79.06" stroke="#0000ff" stroke-width="1.15"/>
<polyline points="380.39,166.50 387.28,166.60 394.17,166.70 401.06,166.80 407.94,166.90 414.83,167.00 421.72,167.50 428.61,168.40 435.50,168.46 442.39,168.52 449.28,168.57 456.17,168.63 463.06,168.69 469.94,168.75 476.83,168.81 483.72,168.87 490.61,168.93 497.50,168.98 504.39,169.04 511.28,169.10 518.17,169.13 525.06,169.17 531.94,169.20 538.83,169.23 545.72,169.27 552.61,169.30 559.50,170.30 566.39,170.38 573.28,170.46 580.17,170.54 587.06,170.62 593.94,170.70 600.83,171.30 607.72,171.36 614.61,171.43 621.50,171.49 628.39,171.55 635.28,171.61 642.17,171.68 649.06,171.74 655.94,171.80" fill="none" stroke="#ff0000" stroke-width="1.0" stroke-dasharray="4.1,3.3" clip-path="url(#clipb)"/>
<path d="M377.39,166.50L383.39,166.50M380.39,163.50L380.39,169.50" stroke="#ff0000" stroke-width="1.0"/>
<path d="M384.28,166.60L390.28,166.60M387.28,163.60L387.28,169.60" stroke="#ff0000" stroke-width="1.0"/>
<path d="M391.17,166.70L397.17,166.70M394.17,163.70L394.17,169.70" stroke="#ff0000" stroke-width="1.0"/>
<path d="M398.06,166.80L404.06,166.80M401.06,163.80L401.06,169.80" stroke="#ff0000" stroke-width="1.0"/>
<path d="M404.94,166.90L410.94,166.90M407.94,163.90L407.94,169.90" stroke="#ff0000" stroke-width="1.0"/>
<path d="M411.83,167.00L417.83,167.00M414.83,164.00L414.83,170.00" stroke="#ff0000" stroke-width="1.0"/>
<path d="M418.72,167.50L424.72,167.50M421.72,164.50L421.72,170.50" stroke="#ff0000" stroke-width="1.0"/>
<path d="M425.61,168.40L431.61,168.40M428.61,165.40L428.61,171.40" stroke="#ff0000" stroke-width="1.0"/>
<path d="M432.50,168.46L438.50,168.46M435.50,165.46L435.50,171.46" stroke="#ff0000" stroke-width="1.0"/>
<path d="M439.39,168.52L445.39,168.52M442.39,165.52L442.39,171.52" stroke="#ff0000" stroke-width="1.0"/>
<path d="M446.28,168.57L452.28,168.57M449.28,165.57L449.28,171.57" stroke="#ff0000" stroke-width="1.0"/>
<path d="M453.17,168.63L459.17,168.63M456.17,165.63L456.17,171.63" stroke="#ff0000" stroke-width="1.0"/>
<path d="M460.06,168.69L466.06,168.69M463.06,165.69L463.06,171.69" stroke="#ff0000" stroke-width="1.0"/>
<path d="M466.94,168.75L472.94,168.75M469.94,165.75L469.94,171.75" stroke="#ff0000" stroke-width="1.0"/>
<path d="M473.83,168.81L479.83,168.81M476.83,165.81L476.83,171.81" stroke="#ff0000" stroke-width="1.0"/>
<path d="M480.72,168.87L486.72,168.87M483.72,165.87L483.72,171.87" stroke="#ff0000" stroke-width="1.0"/>
<path d="M487.61,168.93L493.61,168.93M490.61,165.93L490.61,171.93" stroke="#ff0000" stroke-width="1.0"/>
<path d="M494.50,168.98L500.50,168.98M497.50,165.98L497.50,171.98" stroke="#ff0000" stroke-width="1.0"/>
<path d="M501.39,169.04L507.39,169.04M504.39,166.04L504.39,172.04" stroke="#ff0000" stroke-width="1.0"/>
<path d="M508.28,169.10L514.28,169.10M511.28,166.10L511.28,172.10" stroke="#ff0000" stroke-width="1.0"/>
<path d="M515.17,169.13L521.17,169.13M518.17,166.13L518.17,172.13" stroke="#ff0000" stroke-width="1.0"/>
<path d="M522.06,169.17L528.06,169.17M525.06,166.17L525.06,172.17" stroke="#ff0000" stroke-width="1.0"/>
<path d="M528.94,169.20L534.94,169.20M531.94,166.20L531.94,172.20" stroke="#ff0000" stroke-width="1.0"/>
<path d="M535.83,169.23L541.83,169.23M538.83,166.23L538.83,172.23" stroke="#ff0000" stroke-width="1.0"/>
<path d="M542.72,169.27L548.72,169.27M545.72,166.27L545.72,172.27" stroke="#ff0000" stroke-width="1.0"/>
<path d="M549.61,169.30L555.61,169.30M552.61,166.30L552.61,172.30" stroke="#ff0000" stroke-width="1.0"/>
<path d="M556.50,170.30L562.50,170.30M559.50,167.30L559.50,173.30" stroke="#ff0000" stroke-width="1.0"/>
<path d="M563.39,170.38L569.39,170.38M566.39,167.38L566.39,173.38" stroke="#ff0000" stroke-width="1.0"/>
<path d="M570.28,170.46L576.28,170.46M573.28,167.46L573.28,173.46" stroke="#ff0000" stroke-width="1.0"/>
<path d="M577.17,170.54L583.17,170.54M580.17,167.54L580.17,173.54" stroke="#ff0000" stroke-width="1.0"/>
<path d="M584.06,170.62L590.06,170.62M587.06,167.62L587.06,173.62" stroke="#ff0000" stroke-width="1.0"/>
<path d="M590.94,170.70L596.94,170.70M593.94,167.70L593.94,173.70" stroke="#ff0000" stroke-width="1.0"/>
<path d="M597.83,171.30L603.83,171.30M600.83,168.30L600.83,174.30" stroke="#ff0000" stroke-width="1.0"/>
<path d="M604.72,171.36L610.72,171.36M607.72,168.36L607.72,174.36" stroke="#ff0000" stroke-width="1.0"/>
<path d="M611.61,171.43L617.61,171.43M614.61,168.43L614.61,174.43" stroke="#ff0000" stroke-width="1.0"/>
<path d="M618.50,171.49L624.50,171.49M621.50,168.49L621.50,174.49" stroke="#ff0000" stroke-width="1.0"/>
<path d="M625.39,171.55L631.39,171.55M628.39,168.55L628.39,174.55" stroke="#ff0000" stroke-width="1.0"/>
<path d="M632.28,171.61L638.28,171.61M635.28,168.61L635.28,174.61" stroke="#ff0000" stroke-width="1.0"/>
<path d="M639.17,171.68L645.17,171.68M642.17,168.68L642.17,174.68" stroke="#ff0000" stroke-width="1.0"/>
<path d="M646.06,171.74L652.06,171.74M649.06,168.74L649.06,174.74" stroke="#ff0000" stroke-width="1.0"/>
<path d="M652.94,171.80L658.94,171.80M655.94,168.80L655.94,174.80" stroke="#ff0000" stroke-width="1.0"/>
<polyline points="380.39,64.00 387.28,64.33 394.17,64.66 401.06,64.99 407.94,65.31 414.83,65.64 421.72,65.97 428.61,66.30 435.50,66.90 442.39,67.50 449.28,68.10 456.17,68.70 463.06,69.30 469.94,69.50 476.83,69.70 483.72,69.90 490.61,70.10 497.50,70.30 504.39,70.50 511.28,72.60 518.17,72.78 525.06,72.95 531.94,73.13 538.83,73.30 545.72,73.39 552.61,73.48 559.50,73.56 566.39,73.65 573.28,73.74 580.17,73.83 587.06,73.91 593.94,74.00 600.83,74.06 607.72,74.11 614.61,74.17 621.50,74.22 628.39,74.28 635.28,74.33 642.17,74.39 649.06,74.44 655.94,74.50" fill="none" stroke="#00ffff" stroke-width="1.0" stroke-dasharray="4.1,3.3" clip-path="url(#clipb)"/>
<path d="M376.69,61.93L384.09,61.93L380.39,68.13Z" fill="none" stroke="#00ffff" stroke-width="1.0"/>
<path d="M383.58,62.26L390.98,62.26L387.28,68.46Z" fill="none" stroke="#00ffff" stroke-width="1.0"/>
<path d="M390.47,62.59L397.87,62.59L394.17,68.79Z" fill="none" stroke="#00ffff" stroke-width="1.0"/>
<path d="M397.36,62.92L404.76,62.92L401.06,69.12Z" fill="none" stroke="#00ffff" stroke-width="1.0"/>
<path d="M404.24,63.25L411.64,63.25L407.94,69.45Z" fill="none" stroke="#00ffff" stroke-width="1.0"/>
<path d="M411.13,63.58L418.53,63.58L414.83,69.78Z" fill="none" stroke="#00ffff" stroke-width="1.0"/>
<path d="M418.02,63.90L425.42,63.90L421.72,70.10Z" fill="none" stroke="#00ffff" stroke-width="1.0"/>
<path d="M424.91,64.23L432.31,64.23L428.61,70.43Z" fill="none" stroke="#00ffff" stroke-width="1.0"/>
<path d="M431.80,64.83L439.20,64.83L435.50,71.03Z" fill="none" stroke="#00ffff" stroke-width="1.0"/>
<path d="M438.69,65.43L446.09,65.43L442.39,71.63Z" fill="none" stroke="#00ffff" stroke-width="1.0"/>
<path d="M445.58,66.03L452.98,66.03L449.28,72.23Z" fill="none" stroke="#00ffff" stroke-width="1.0"/>
<path d="M452.47,66.63L459.87,66.63L456.17,72.83Z" fill="none" stroke="#00ffff" stroke-width="1.0"/>
<path d="M459.36,67.23L466.76,67.23L463.06,73.43Z" fill="none" stroke="#00ffff" stroke-width="1.0"/>
<path d="M466.24,67.43L473.64,67.43L469.94,73.63Z" fill="none" stroke="#00ffff" stroke-width="1.0"/>
<path d="M473.13,67.63L480.53,67.63L476.83,73.83Z" fill="none" stroke="#00ffff" stroke-width="1.0"/>
<path d="M480.02,67.83L487.42,67.83L483.72,74.03Z" fill="none" stroke="#00ffff" stroke-width="1.0"/>
<path d="M486.91,68.03L494.31,68.03L490.61,74.23Z" fill="none" stroke="#00ffff" stroke-width="1.0"/>
<path d="M493.80,68.23L501.20,68.23L497.50,74.43Z" fill="none" stroke="#00ffff" stroke-width="1.0"/>
<path d="M500.69,68.43L508.09,68.43L504.39,74.63Z" fill="none" stroke="#00ffff" stroke-width="1.0"/>
<path d="M507.58,70.53L514.98,70.53L511.28,76.73Z" fill="none" stroke="#00ffff" stroke-width="1.0"/>
<path d="M514.47,70.71L521.87,70.71L518.17,76.91Z" fill="none" stroke="#00ffff" stroke-width="1.0"/>
<path d="M521.36,70.88L528.76,70.88L525.06,77.08Z" fill="none" stroke="#00ffff" stroke-width="1.0"/>
<path d="M528.24,71.06L535.64,71.06L531.94,77.26Z" fill="none" stroke="#00ffff" stroke-width="1.0"/>
<path d="M535.13,71.23L542.53,71.23L538.83,77.43Z" fill="none" stroke="#00ffff" stroke-width="1.0"/>
<path d="M542.02,71.32L549.42,71.32L545.72,77.52Z" fill="none" stroke="#00ffff" stroke-width="1.0"/>
<path d="M548.91,71.41L556.31,71.41L552.61,77.61Z" fill="none" stroke="#00ffff" stroke-width="1.0"/>
<path d="M555.80,71.50L563.20,71.50L559.50,77.70Z" fill="none" stroke="#00ffff" stroke-width="1.0"/>
<path d="M562.69,71.58L570.09,71.58L566.39,77.78Z" fill="none" stroke="#00ffff" stroke-width="1.0"/>
<path d="M569.58,71.67L576.98,71.67L573.28,77.87Z" fill="none" stroke="#00ffff" stroke-width="1.0"/>
<path d="M576.47,71.76L583.87,71.76L580.17,77.96Z" fill="none" stroke="#00ffff" stroke-width="1.0"/>
<path d="M583.36,71.85L590.76,71.85L587.06,78.05Z" fill="none" stroke="#00ffff" stroke-width="1.0"/>
<path d="M590.24,71.93L597.64,71.93L593.94,78.13Z" fill="none" stroke="#00ffff" stroke-width="1.0"/>
<path d="M597.13,71.99L604.53,71.99L600.83,78.19Z" fill="none" stroke="#00ffff" stroke-width="1.0"/>
<path d="M604.02,72.04L611.42,72.04L607.72,78.24Z" fill="none" stroke="#00ffff" stroke-width="1.0"/>
<path d="M610.91,72.10L618.31,72.10L614.61,78.30Z" fill="none" stroke="#00ffff" stroke-width="1.0"/>
<path d="M617.80,72.16L625.20,72.16L621.50,78.36Z" fill="none" stroke="#00ffff" stroke-width="1.0"/>
<path d="M624.69,72.21L632.09,72.21L628.39,78.41Z" fill="none" stroke="#00ffff" stroke-width="1.0"/>
<path d="M631.58,72.27L638.98,72.27L635.28,78.47Z" fill="none" stroke="#00ffff" stroke-width="1.0"/>
<path d="M638.47,72.32L645.87,72.32L642.17,78.52Z" fill="none" stroke="#00ffff" stroke-width="1.0"/>
<path d="M645.36,72.38L652.76,72.38L649.06,78.58Z" fill="none" stroke="#00ffff" stroke-width="1.0"/>
<path d="M652.24,72.43L659.64,72.43L655.94,78.63Z" fill="none" stroke="#00ffff" stroke-width="1.0"/>
<rect x="373.5" y="13.5" width="310" height="244" fill="none" stroke="#808080" stroke-width="1"/>
<path d="M373.50,257.5V254.4M373.50,13.5V16.6" stroke="#808080" stroke-width="1"/>
<path d="M442.39,257.5V254.4M442.39,13.5V16.6" stroke="#808080" stroke-width="1"/>
<path d="M511.28,257.5V254.4M511.28,13.5V16.6" stroke="#808080" stroke-width="1"/>
<path d="M580.17,257.5V254.4M580.17,13.5V16.6" stroke="#808080" stroke-width="1"/>
<path d="M649.06,257.5V254.4M649.06,13.5V16.6" stroke="#808080" stroke-width="1"/>
<path d="M373.5,257.50H376.6M683.5,257.50H680.4" stroke="#808080" stroke-width="1"/>
<path d="M373.5,227.00H376.6M683.5,227.00H680.4" stroke="#808080" stroke-width="1"/>
<path d="M373.5,196.50H376.6M683.5,196.50H680.4" stroke="#808080" stroke-width="1"/>
<path d="M373.5,166.00H376.6M683.5,166.00H680.4" stroke="#808080" stroke-width="1"/>
<path d="M373.5,135.50H376.6M683.5,135.50H680.4" stroke="#808080" stroke-width="1"/>
<path d="M373.5,105.00H376.6M683.5,105.00H680.4" stroke="#808080" stroke-width="1"/>
<path d="M373.5,74.50H376.6M683.5,74.50H680.4" stroke="#808080" stroke-width="1"/>
<path d="M373.5,44.00H376.6M683.5,44.00H680.4" stroke="#808080" stroke-width="1"/>
<path d="M373.5,13.50H376.6M683.5,13.50H680.4" stroke="#808080" stroke-width="1"/>
<text transform="translate(373.50,271.1) scale(0.93,1)" text-anchor="middle" class="t tk">60</text>
<text transform="translate(442.39,271.1) scale(0.93,1)" text-anchor="middle" class="t tk">70</text>
<text transform="translate(511.28,271.1) scale(0.93,1)" text-anchor="middle" class="t tk">80</text>
<text transform="translate(580.17,271.1) scale(0.93,1)" text-anchor="middle" class="t tk">90</text>
<text transform="translate(649.06,271.1) scale(0.93,1)" text-anchor="middle" class="t tk">100</text>
<text transform="translate(369.10,261.50) scale(0.93,1)" text-anchor="end" class="t tk">0.5</text>
<text transform="translate(369.10,231.00) scale(0.93,1)" text-anchor="end" class="t tk">1</text>
<text transform="translate(369.10,200.50) scale(0.93,1)" text-anchor="end" class="t tk">1.5</text>
<text transform="translate(369.10,170.00) scale(0.93,1)" text-anchor="end" class="t tk">2</text>
<text transform="translate(369.10,139.50) scale(0.93,1)" text-anchor="end" class="t tk">2.5</text>
<text transform="translate(369.10,109.00) scale(0.93,1)" text-anchor="end" class="t tk">3</text>
<text transform="translate(369.10,78.50) scale(0.93,1)" text-anchor="end" class="t tk">3.5</text>
<text transform="translate(369.10,48.00) scale(0.93,1)" text-anchor="end" class="t tk">4</text>
<text transform="translate(369.10,17.50) scale(0.93,1)" text-anchor="end" class="t tk">4.5</text>
<text x="374.30" y="11.7" class="t" style="fill:#4a4a4a">&#215;</text>
<text x="379.90" y="11.7" class="t">10</text>
<text x="391.90" y="6.6" class="t" style="font-size:7.6px">6</text>
<text x="528.20" y="284.6" text-anchor="middle" class="t" style="font-size:10.5px">(b)</text>
<rect x="592.8" y="20.45" width="82.60" height="72.95" fill="#fff" stroke="#808080" stroke-width="1"/>
<path d="M595.70,27.60H624.50" stroke="#ffff00" stroke-width="1.0"/>
<path d="M608.33,24.00L613.93,27.60L608.33,31.20Z" fill="none" stroke="#ffff00" stroke-width="1.0"/>
<text x="626.30" y="31.10" class="l">HCOA</text>
<path d="M595.70,39.40H624.50" stroke="#000000" stroke-width="1.0"/>
<path d="M610.20,35.60L613.00,39.40L610.20,43.20L607.40,39.40Z" fill="none" stroke="#000000" stroke-width="1.0"/>
<text x="626.30" y="42.90" class="l">BBPSO</text>
<path d="M595.70,51.20H624.50" stroke="#00ff00" stroke-width="1.0"/>
<circle cx="610.20" cy="51.20" r="2.75" fill="none" stroke="#00ff00" stroke-width="1.0"/>
<text x="626.30" y="54.70" class="l">PBBPSO</text>
<path d="M595.70,62.90H624.50" stroke="#0000ff" stroke-width="1.0"/>
<path d="M607.50,62.90H612.90M610.20,60.20V65.60M608.26,60.96L612.14,64.84M608.26,64.84L612.14,60.96" stroke="#0000ff" stroke-width="1.15"/>
<text x="626.30" y="66.40" class="l">DLSBBPSO</text>
<path d="M595.70,74.65H624.50" stroke="#ff0000" stroke-width="1.0" stroke-dasharray="4.1,3.3"/>
<path d="M607.20,74.65L613.20,74.65M610.20,71.65L610.20,77.65" stroke="#ff0000" stroke-width="1.0"/>
<text x="626.30" y="78.15" class="l">TBBPSO</text>
<path d="M595.70,86.10H624.50" stroke="#00ffff" stroke-width="1.0" stroke-dasharray="4.1,3.3"/>
<path d="M606.50,84.03L613.90,84.03L610.20,90.23Z" fill="none" stroke="#00ffff" stroke-width="1.0"/>
<text x="626.30" y="89.60" class="l">ETBBPSO</text>
</svg></body></html>
